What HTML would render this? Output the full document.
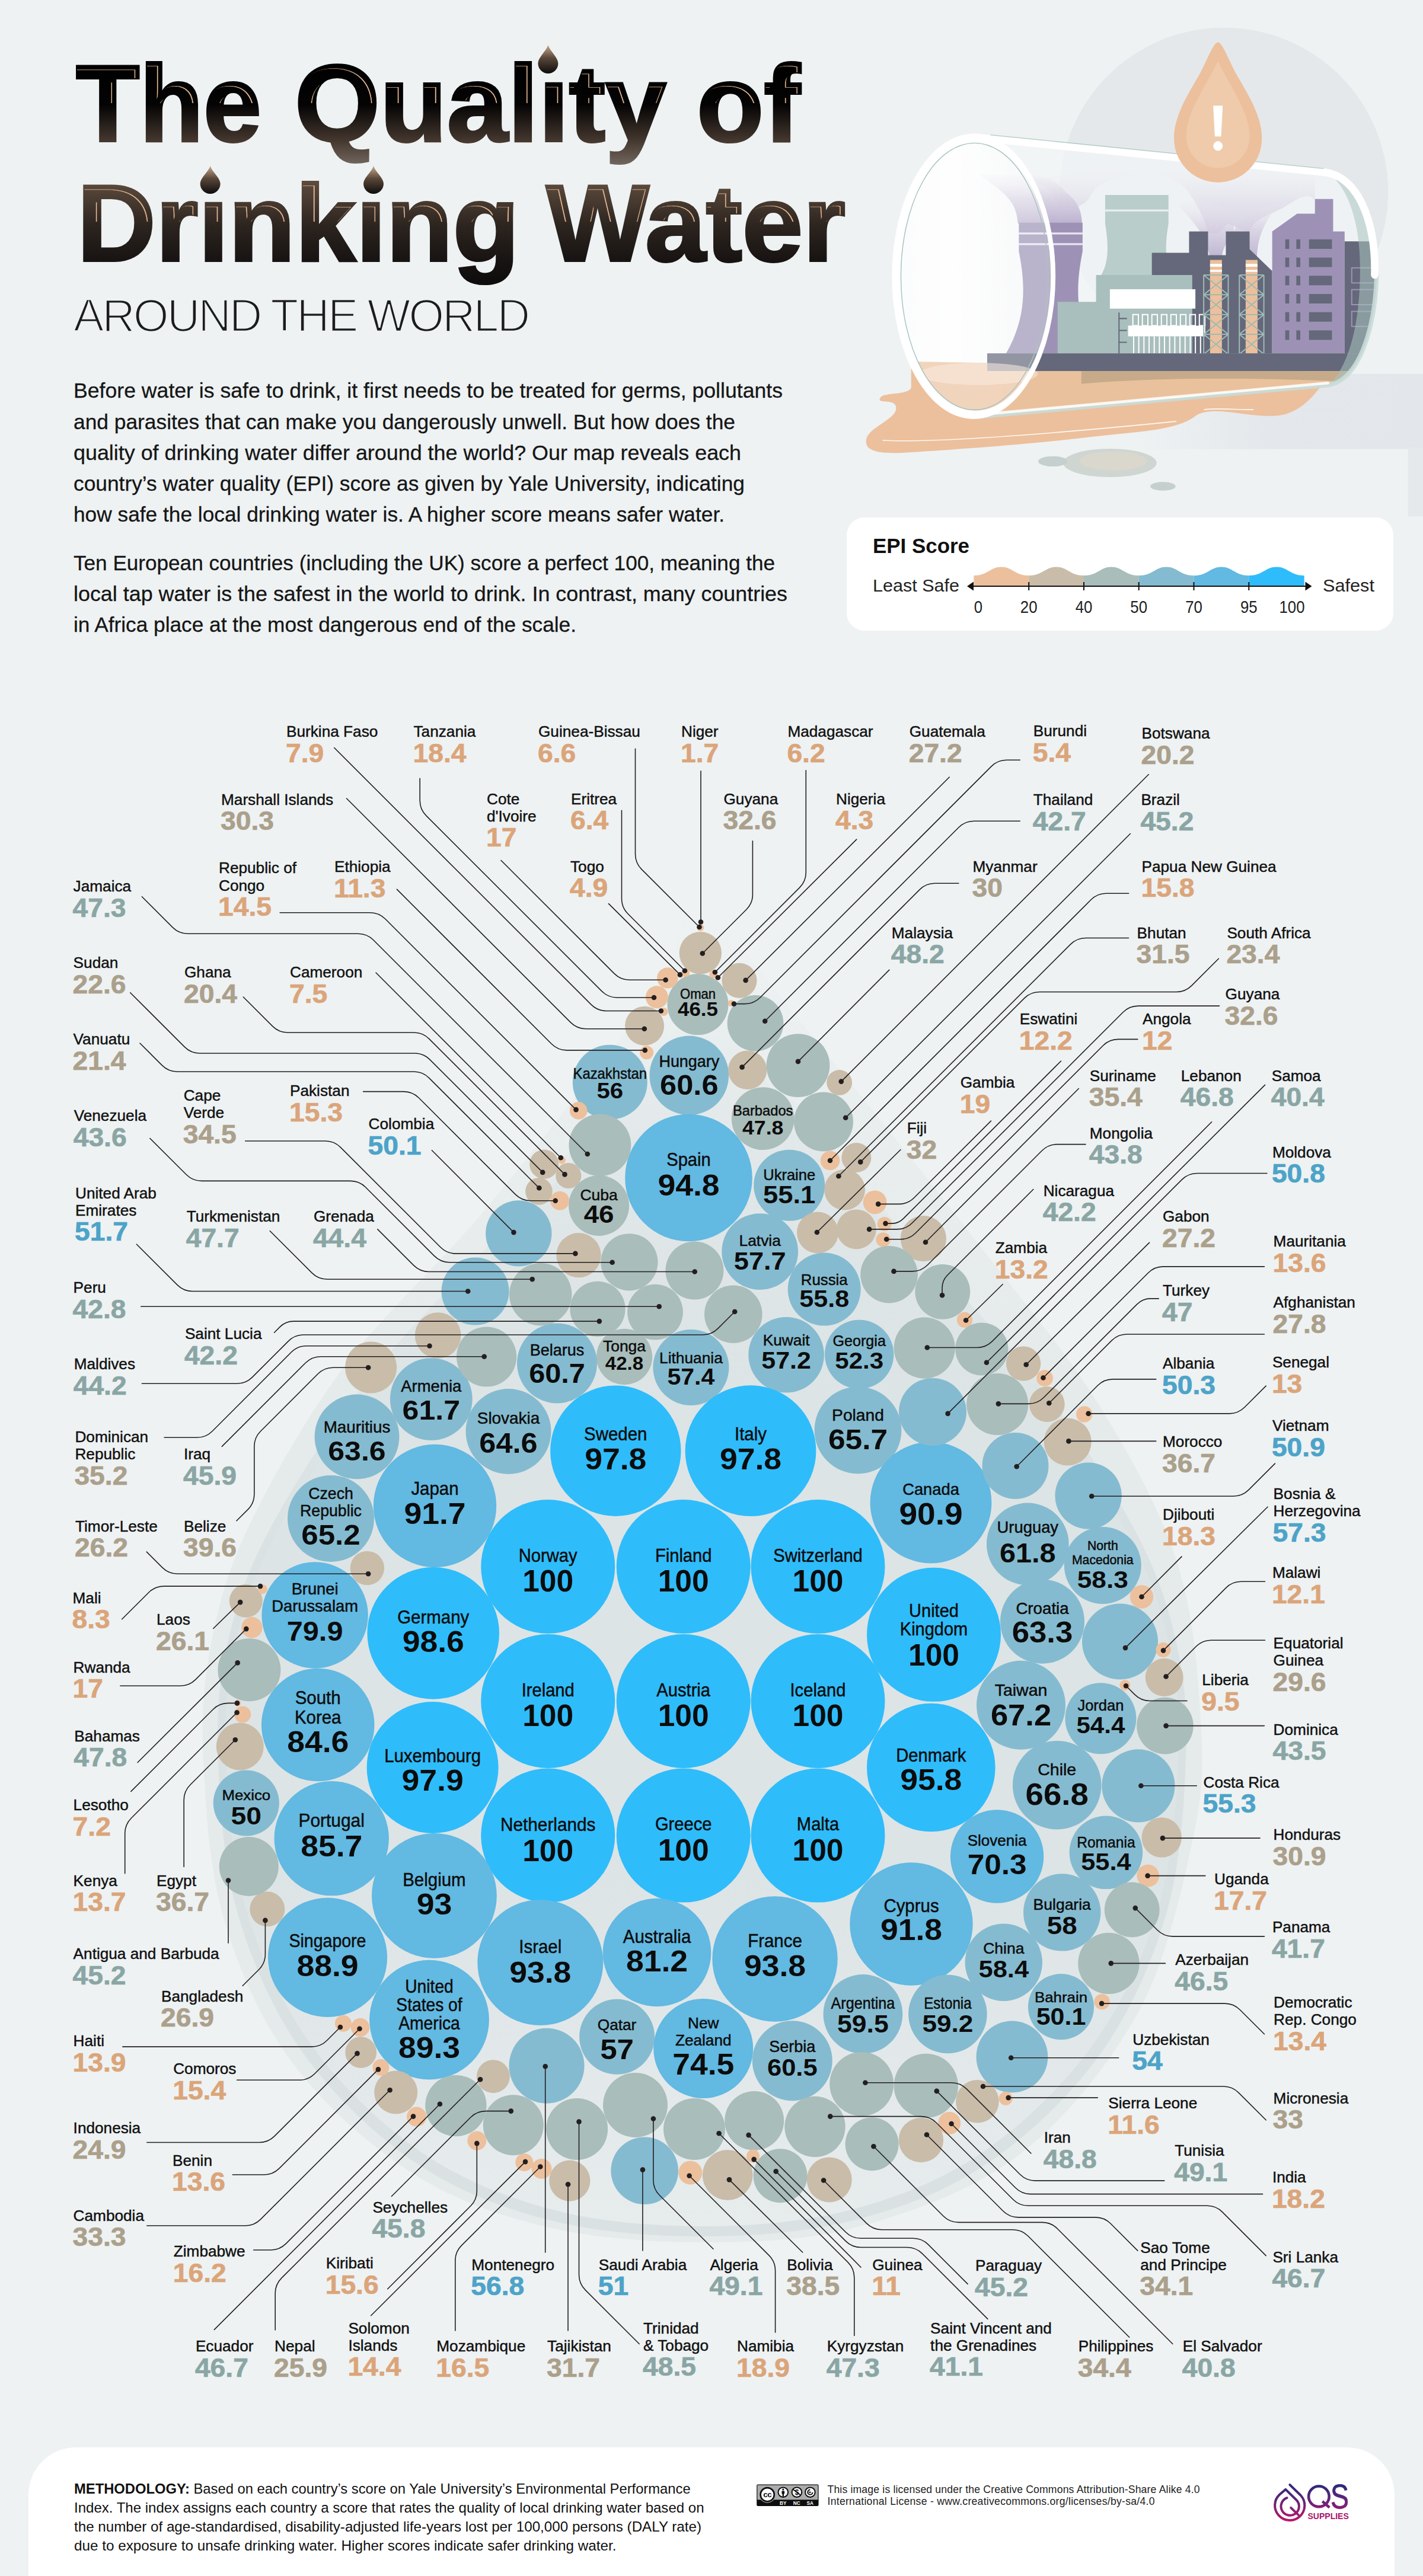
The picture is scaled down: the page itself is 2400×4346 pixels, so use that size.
<!DOCTYPE html>
<html><head><meta charset="utf-8"><title>The Quality of Drinking Water Around the World</title>
<style>html,body{margin:0;padding:0;background:#eef2f3}body{width:2400px;height:4346px;overflow:hidden}svg{display:block}text{font-family:"Liberation Sans",sans-serif}</style>
</head><body>
<svg width="2400" height="4346" viewBox="0 0 2400 4346">
<defs>
<linearGradient id="tg1" gradientUnits="userSpaceOnUse" x1="0" y1="105" x2="0" y2="295"><stop offset="0" stop-color="#000"/><stop offset="0.38" stop-color="#050404"/><stop offset="0.7" stop-color="#45382f"/><stop offset="1" stop-color="#857b73"/></linearGradient>
<linearGradient id="tg2" gradientUnits="userSpaceOnUse" x1="0" y1="305" x2="0" y2="495"><stop offset="0" stop-color="#5e4c3e"/><stop offset="0.4" stop-color="#2c241f"/><stop offset="0.72" stop-color="#171312"/><stop offset="1" stop-color="#0a0909"/></linearGradient>
<linearGradient id="dg" x1="0" y1="0" x2="0" y2="1"><stop offset="0" stop-color="#c9a88a"/><stop offset="0.45" stop-color="#5a483b"/><stop offset="1" stop-color="#0e0c0b"/></linearGradient>
</defs>
<rect width="2400" height="4346" fill="#eef2f3"/>
<text x="128.0" y="238.0" font-size="183" font-weight="bold" textLength="313.0" lengthAdjust="spacingAndGlyphs" fill="url(#tg1)" stroke="url(#tg1)" stroke-width="4" stroke-linejoin="miter">The</text>
<text x="497.0" y="238.0" font-size="183" font-weight="bold" textLength="627.0" lengthAdjust="spacingAndGlyphs" fill="url(#tg1)" stroke="url(#tg1)" stroke-width="4" stroke-linejoin="miter">Qualıty</text>
<text x="1175.0" y="238.0" font-size="183" font-weight="bold" textLength="175.0" lengthAdjust="spacingAndGlyphs" fill="url(#tg1)" stroke="url(#tg1)" stroke-width="4" stroke-linejoin="miter">of</text>
<text x="130.0" y="440.0" font-size="183" font-weight="bold" textLength="746.0" lengthAdjust="spacingAndGlyphs" fill="url(#tg2)" stroke="url(#tg2)" stroke-width="4" stroke-linejoin="miter">Drınkıng</text>
<text x="921.0" y="440.0" font-size="183" font-weight="bold" textLength="505.0" lengthAdjust="spacingAndGlyphs" fill="url(#tg2)" stroke="url(#tg2)" stroke-width="4" stroke-linejoin="miter">Water</text>
<defs><mask id="hlm" maskUnits="userSpaceOnUse" x="0" y="0" width="1500" height="520"><rect width="1500" height="520" fill="#000"/>
<g transform="translate(-5.5,5.5)"><text x="128.0" y="238.0" font-size="183" font-weight="bold" textLength="313.0" lengthAdjust="spacingAndGlyphs" fill="#fff">The</text><text x="497.0" y="238.0" font-size="183" font-weight="bold" textLength="627.0" lengthAdjust="spacingAndGlyphs" fill="#fff">Qualıty</text><text x="1175.0" y="238.0" font-size="183" font-weight="bold" textLength="175.0" lengthAdjust="spacingAndGlyphs" fill="#fff">of</text><text x="130.0" y="440.0" font-size="183" font-weight="bold" textLength="746.0" lengthAdjust="spacingAndGlyphs" fill="#fff">Drınkıng</text><text x="921.0" y="440.0" font-size="183" font-weight="bold" textLength="505.0" lengthAdjust="spacingAndGlyphs" fill="#fff">Water</text></g>
<g transform="translate(-7.3,7.3)"><text x="128.0" y="238.0" font-size="183" font-weight="bold" textLength="313.0" lengthAdjust="spacingAndGlyphs" fill="#000" stroke="#000" stroke-width="0.6">The</text><text x="497.0" y="238.0" font-size="183" font-weight="bold" textLength="627.0" lengthAdjust="spacingAndGlyphs" fill="#000" stroke="#000" stroke-width="0.6">Qualıty</text><text x="1175.0" y="238.0" font-size="183" font-weight="bold" textLength="175.0" lengthAdjust="spacingAndGlyphs" fill="#000" stroke="#000" stroke-width="0.6">of</text><text x="130.0" y="440.0" font-size="183" font-weight="bold" textLength="746.0" lengthAdjust="spacingAndGlyphs" fill="#000" stroke="#000" stroke-width="0.6">Drınkıng</text><text x="921.0" y="440.0" font-size="183" font-weight="bold" textLength="505.0" lengthAdjust="spacingAndGlyphs" fill="#000" stroke="#000" stroke-width="0.6">Water</text></g>
</mask><clipPath id="tcl"><text x="128.0" y="238.0" font-size="183" font-weight="bold" textLength="313.0" lengthAdjust="spacingAndGlyphs" >The</text><text x="497.0" y="238.0" font-size="183" font-weight="bold" textLength="627.0" lengthAdjust="spacingAndGlyphs" >Qualıty</text><text x="1175.0" y="238.0" font-size="183" font-weight="bold" textLength="175.0" lengthAdjust="spacingAndGlyphs" >of</text><text x="130.0" y="440.0" font-size="183" font-weight="bold" textLength="746.0" lengthAdjust="spacingAndGlyphs" >Drınkıng</text><text x="921.0" y="440.0" font-size="183" font-weight="bold" textLength="505.0" lengthAdjust="spacingAndGlyphs" >Water</text></clipPath></defs>
<g clip-path="url(#tcl)"><g mask="url(#hlm)"><rect x="100" y="100" width="1360" height="74" fill="#ecbd96"/><rect x="100" y="300" width="1360" height="74" fill="#ecbd96"/></g></g>
<path d="M924.4 76.0 C927.4 86.0 941.4 97.0 941.4 107.0 A17.0 17.0 0 0 1 907.4 107.0 C907.4 97.0 921.4 86.0 924.4 76.0 Z" fill="url(#dg)"/>
<path d="M354.6 280.0 C357.6 290.0 371.6 300.0 371.6 310.0 A17.0 17.0 0 0 1 337.6 310.0 C337.6 300.0 351.6 290.0 354.6 280.0 Z" fill="url(#dg)"/>
<path d="M630.0 280.0 C633.0 290.0 647.0 300.0 647.0 310.0 A17.0 17.0 0 0 1 613.0 310.0 C613.0 300.0 627.0 290.0 630.0 280.0 Z" fill="url(#dg)"/>
<text x="124" y="558.5" font-size="77" fill="#1c1c1c" stroke="#eef2f3" stroke-width="2.6" textLength="770" lengthAdjust="spacing">AROUND THE WORLD</text>
<text x="124" y="671.0" font-size="35.6" fill="#161616" stroke="#161616" stroke-width="0.3" textLength="1196" lengthAdjust="spacingAndGlyphs">Before water is safe to drink, it first needs to be treated for germs, pollutants</text>
<text x="124" y="723.5" font-size="35.6" fill="#161616" stroke="#161616" stroke-width="0.3" textLength="1116" lengthAdjust="spacingAndGlyphs">and parasites that can make you dangerously unwell. But how does the</text>
<text x="124" y="776.0" font-size="35.6" fill="#161616" stroke="#161616" stroke-width="0.3" textLength="1126" lengthAdjust="spacingAndGlyphs">quality of drinking water differ around the world? Our map reveals each</text>
<text x="124" y="828.0" font-size="35.6" fill="#161616" stroke="#161616" stroke-width="0.3" textLength="1132" lengthAdjust="spacingAndGlyphs">country’s water quality (EPI) score as given by Yale University, indicating</text>
<text x="124" y="880.0" font-size="35.6" fill="#161616" stroke="#161616" stroke-width="0.3" textLength="1098" lengthAdjust="spacingAndGlyphs">how safe the local drinking water is. A higher score means safer water.</text>
<text x="124" y="961.5" font-size="35.6" fill="#161616" stroke="#161616" stroke-width="0.3" textLength="1183" lengthAdjust="spacingAndGlyphs">Ten European countries (including the UK) score a perfect 100, meaning the</text>
<text x="124" y="1013.5" font-size="35.6" fill="#161616" stroke="#161616" stroke-width="0.3" textLength="1204" lengthAdjust="spacingAndGlyphs">local tap water is the safest in the world to drink. In contrast, many countries</text>
<text x="124" y="1065.5" font-size="35.6" fill="#161616" stroke="#161616" stroke-width="0.3" textLength="848" lengthAdjust="spacingAndGlyphs">in Africa place at the most dangerous end of the scale.</text>
<rect x="1428" y="873" width="922" height="191" rx="30" fill="#fff"/>
<text x="1472" y="933" font-size="35" font-weight="bold" fill="#111" textLength="163" lengthAdjust="spacingAndGlyphs">EPI Score</text>
<text x="1472" y="997.5" font-size="30" fill="#222" textLength="146" lengthAdjust="spacingAndGlyphs">Least Safe</text>
<text x="2231" y="997.5" font-size="30" fill="#222" textLength="87" lengthAdjust="spacingAndGlyphs">Safest</text>
<path d="M1642.4 989.0 L1642.4 971.0 C1665.6 971.0 1670.2 956.5 1688.8 956.5 C1707.4 956.5 1712.0 971.0 1735.2 971.0 L1735.2 989.0 Z" fill="#ecc09c"/>
<path d="M1735.2 989.0 L1735.2 971.0 C1758.4 971.0 1763.0 956.5 1781.6 956.5 C1800.2 956.5 1804.8 971.0 1828.0 971.0 L1828.0 989.0 Z" fill="#c9bca9"/>
<path d="M1828.0 989.0 L1828.0 971.0 C1851.2 971.0 1855.8 956.5 1874.3 956.5 C1892.9 956.5 1897.5 971.0 1920.7 971.0 L1920.7 989.0 Z" fill="#a9bdbb"/>
<path d="M1920.7 989.0 L1920.7 971.0 C1943.9 971.0 1948.5 956.5 1967.1 956.5 C1985.7 956.5 1990.3 971.0 2013.5 971.0 L2013.5 989.0 Z" fill="#85bbd0"/>
<path d="M2013.5 989.0 L2013.5 971.0 C2036.7 971.0 2041.3 956.5 2059.9 956.5 C2078.5 956.5 2083.1 971.0 2106.3 971.0 L2106.3 989.0 Z" fill="#62b9e2"/>
<path d="M2106.3 989.0 L2106.3 971.0 C2129.7 971.0 2134.3 956.5 2153.0 956.5 C2171.7 956.5 2176.3 971.0 2199.7 971.0 L2199.7 989.0 Z" fill="#2fbcfb"/>
<path d="M1640 989 H2204" stroke="#111" stroke-width="2" fill="none"/>
<path d="M1631 989 l11 -7.5 v15 Z M2212.5 989 l-11 -7.5 v15 Z" fill="#111"/>
<path d="M1735.2 982 v14" stroke="#111" stroke-width="2"/>
<path d="M1828.0 982 v14" stroke="#111" stroke-width="2"/>
<path d="M1920.7 982 v14" stroke="#111" stroke-width="2"/>
<path d="M2013.5 982 v14" stroke="#111" stroke-width="2"/>
<path d="M2106.3 982 v14" stroke="#111" stroke-width="2"/>
<text x="1650.0" y="1034" font-size="30" fill="#222" text-anchor="middle" textLength="14.3" lengthAdjust="spacingAndGlyphs">0</text>
<text x="1735.2" y="1034" font-size="30" fill="#222" text-anchor="middle" textLength="28.7" lengthAdjust="spacingAndGlyphs">20</text>
<text x="1828.0" y="1034" font-size="30" fill="#222" text-anchor="middle" textLength="28.7" lengthAdjust="spacingAndGlyphs">40</text>
<text x="1920.7" y="1034" font-size="30" fill="#222" text-anchor="middle" textLength="28.7" lengthAdjust="spacingAndGlyphs">50</text>
<text x="2013.5" y="1034" font-size="30" fill="#222" text-anchor="middle" textLength="28.7" lengthAdjust="spacingAndGlyphs">70</text>
<text x="2106.3" y="1034" font-size="30" fill="#222" text-anchor="middle" textLength="28.7" lengthAdjust="spacingAndGlyphs">95</text>
<text x="2179.0" y="1034" font-size="30" fill="#222" text-anchor="middle" textLength="43.0" lengthAdjust="spacingAndGlyphs">100</text>
<defs>
<linearGradient id="band" x1="0" y1="0" x2="1" y2="0"><stop offset="0" stop-color="#e3e6ea" stop-opacity="0"/><stop offset="0.45" stop-color="#e3e6ea" stop-opacity="0.9"/><stop offset="1" stop-color="#e3e6ea"/></linearGradient>
<linearGradient id="smk" x1="0" y1="1" x2="0" y2="0"><stop offset="0" stop-color="#b9aecd" stop-opacity="0.95"/><stop offset="0.5" stop-color="#d4cde0" stop-opacity="0.8"/><stop offset="1" stop-color="#ece9f1" stop-opacity="0.15"/></linearGradient>
<linearGradient id="gls" x1="0" y1="0" x2="1" y2="0"><stop offset="0" stop-color="#fff" stop-opacity="0.55"/><stop offset="0.35" stop-color="#fff" stop-opacity="0.95"/><stop offset="0.75" stop-color="#fff" stop-opacity="0.35"/><stop offset="1" stop-color="#f4f6f8" stop-opacity="0.1"/></linearGradient>
<radialGradient id="odrop" cx="0.5" cy="0.62" r="0.5"><stop offset="0" stop-color="#f2d2b6"/><stop offset="0.55" stop-color="#efc8a8"/><stop offset="1" stop-color="#ecc09c"/></radialGradient>
<clipPath id="gclip"><path d="M290 297 L1172 385 C1265 395 1310 520 1306 650 C1302 790 1260 915 1185 928 L300 1008 C180 1000 95 850 95 652 C95 450 180 300 290 297 Z"/></clipPath>
</defs>
<g transform="translate(1450 30) scale(0.6676)">
<circle cx="920" cy="440" r="415" fill="#e4e8eb"/>
<rect x="700" y="900" width="760" height="190" fill="url(#band)"/>
<rect x="1385" y="1085" width="80" height="175" fill="#e6e9ec"/>
<path d="M20 1084 C-5 1040 95 1020 92 985 C90 960 40 978 52 960 C62 945 120 955 130 935 L130 880 C130 865 150 868 170 868 L1190 895 C1160 940 1130 985 1075 1002 C1000 1020 900 975 850 1005 C800 1045 700 1045 560 1062 C400 1080 250 1090 130 1098 C70 1102 35 1100 20 1084 Z" fill="#ecc09c"/>
<path d="M58 1068 C200 1075 500 1050 800 1020" fill="none" stroke="#fff" stroke-width="2.5" opacity="0.9"/>
<path d="M870 990 C920 985 960 992 995 990" fill="none" stroke="#fff" stroke-width="2.5" opacity="0.9"/>
<ellipse cx="632" cy="1125" rx="118" ry="36" fill="#cfd6d2"/><ellipse cx="640" cy="1120" rx="85" ry="24" fill="#dad8cc"/>
<ellipse cx="488" cy="1121" rx="37" ry="13" fill="#c5d0ce"/><ellipse cx="766" cy="1184" rx="32" ry="11" fill="#c5d0ce"/>
<path d="M290 297 L1172 385 C1265 395 1310 520 1306 650 C1302 790 1260 915 1185 928 L300 1008 C180 1000 95 850 95 652 C95 450 180 300 290 297 Z" fill="#f3f5f7" opacity="0.75"/>
<ellipse cx="292" cy="652" rx="197" ry="345" fill="url(#gls)"/>
<g clip-path="url(#gclip)">
<path d="M400 520 C395 470 380 450 300 395 C420 400 470 380 520 440 C560 470 560 500 562 520 Z" fill="url(#smk)"/>
<path d="M505 520 C515 480 560 485 580 455 C600 415 640 400 720 395 C760 395 800 400 830 440 C850 470 870 500 880 545 L905 545 L930 520 L985 545 C990 510 1030 500 1070 480 C1110 455 1130 440 1150 460 L1150 400 L600 385 L420 410 C500 420 500 480 505 520 Z" fill="url(#smk)" opacity="0.5"/>
<path d="M885 612 C880 560 850 520 800 470 C900 440 950 500 945 540 C960 500 1000 480 1060 470 C1010 530 1005 570 1003 612 L975 612 C975 575 960 560 945 545 C930 565 915 580 915 612 Z" fill="url(#smk)"/>
<path d="M402 518 H563 V590 C545 680 545 760 590 848 H370 C420 760 420 680 402 590 Z" fill="#9d92b6"/>
<path d="M402 545 H563 M402 572 H563" stroke="#e9e5f0" stroke-width="5"/>
<path d="M620 448 H780 V520 C770 580 772 620 790 650 H610 C628 620 630 580 620 520 Z" fill="#b9cdcb"/>
<path d="M620 487 H780" stroke="#e8efee" stroke-width="5"/>
<path d="M738 594 H832 V540 H880 V600 H925 V540 H985 V585 L1042 640 V848 H738 Z" fill="#64687a"/>
<path d="M597 650 H840 V848 H500 V718 H597 Z" fill="#a9bfbd"/>
<rect x="632" y="686" width="216" height="49" fill="#fff"/>
<rect x="678" y="778" width="195" height="27" fill="#fff"/>
<g stroke="#fff" stroke-width="3" fill="none">
<rect x="690" y="750" width="14" height="28"/>
<rect x="714" y="750" width="14" height="28"/>
<rect x="738" y="750" width="14" height="28"/>
<rect x="762" y="750" width="14" height="28"/>
<rect x="786" y="750" width="14" height="28"/>
<rect x="810" y="750" width="14" height="28"/>
<rect x="834" y="750" width="14" height="28"/>
<rect x="858" y="750" width="14" height="28"/>
<path d="M692 805 V848"/>
<path d="M705 805 V848"/>
<path d="M718 805 V848"/>
<path d="M731 805 V848"/>
<path d="M744 805 V848"/>
<path d="M757 805 V848"/>
<path d="M770 805 V848"/>
<path d="M783 805 V848"/>
<path d="M796 805 V848"/>
<path d="M809 805 V848"/>
<path d="M822 805 V848"/>
<path d="M835 805 V848"/>
<path d="M848 805 V848"/>
<path d="M861 805 V848"/>
</g>
<path d="M655 745 V848 M655 760 h20 M655 790 h20 M655 820 h20" stroke="#64687a" stroke-width="3" fill="none"/>
<rect x="885" y="612" width="30" height="236" fill="#ecc09c"/>
<rect x="885" y="622" width="30" height="7" fill="#fff"/><rect x="885" y="637" width="30" height="5" fill="#fff"/>
<path d="M869 650 V848 M931 650 V848 M869 650 H931 M869 650 L931 700 M931 650 L869 700 M869 700 H931 M869 700 L931 750 M931 700 L869 750 M869 750 H931 M869 750 L931 800 M931 750 L869 800 M869 800 H931 M869 800 L931 850 M931 800 L869 850 M869 850 H931" stroke="#9ebab6" stroke-width="3" fill="none"/>
<rect x="975" y="612" width="30" height="236" fill="#ecc09c"/>
<rect x="975" y="622" width="30" height="7" fill="#fff"/><rect x="975" y="637" width="30" height="5" fill="#fff"/>
<path d="M959 650 V848 M1021 650 V848 M959 650 H1021 M959 650 L1021 700 M1021 650 L959 700 M959 700 H1021 M959 700 L1021 750 M1021 700 L959 750 M959 750 H1021 M959 750 L1021 800 M1021 750 L959 800 M959 800 H1021 M959 800 L1021 850 M1021 800 L959 850 M959 850 H1021" stroke="#9ebab6" stroke-width="3" fill="none"/>
<path d="M1042 540 L1105 495 H1150 V458 H1196 V540 H1225 V848 H1042 Z" fill="#9d92b6"/>
<rect x="1225" y="565" width="120" height="283" fill="#64687a"/>
<rect x="1075" y="560" width="10" height="24" fill="#64687a"/><rect x="1103" y="560" width="10" height="24" fill="#64687a"/><rect x="1135" y="560" width="58" height="24" fill="#64687a"/>
<rect x="1075" y="606" width="10" height="24" fill="#64687a"/><rect x="1103" y="606" width="10" height="24" fill="#64687a"/><rect x="1135" y="606" width="58" height="24" fill="#64687a"/>
<rect x="1075" y="652" width="10" height="24" fill="#64687a"/><rect x="1103" y="652" width="10" height="24" fill="#64687a"/><rect x="1135" y="652" width="58" height="24" fill="#64687a"/>
<rect x="1075" y="698" width="10" height="24" fill="#64687a"/><rect x="1103" y="698" width="10" height="24" fill="#64687a"/><rect x="1135" y="698" width="58" height="24" fill="#64687a"/>
<rect x="1075" y="744" width="10" height="24" fill="#64687a"/><rect x="1103" y="744" width="10" height="24" fill="#64687a"/><rect x="1135" y="744" width="58" height="24" fill="#64687a"/>
<rect x="1075" y="790" width="10" height="24" fill="#64687a"/><rect x="1103" y="790" width="10" height="24" fill="#64687a"/><rect x="1135" y="790" width="58" height="24" fill="#64687a"/>
<rect x="1243" y="632" width="70" height="38" fill="none" stroke="#9d92b6" stroke-width="3"/>
<rect x="1243" y="687" width="70" height="38" fill="none" stroke="#9d92b6" stroke-width="3"/>
<rect x="1243" y="742" width="70" height="38" fill="none" stroke="#9d92b6" stroke-width="3"/>
<rect x="322" y="848" width="1000" height="45" fill="#64687a"/>
<path d="M95 868 L322 872 V893 H1320 V1010 H95 Z" fill="#e9bd98" opacity="0.93"/>
<path d="M560 893 H1320 V925 C1100 910 800 905 560 925 Z" fill="#b9a183" opacity="0.75"/>
<ellipse cx="300" cy="900" rx="150" ry="28" fill="#f8e6d6" opacity="0.55"/>
<ellipse cx="292" cy="652" rx="197" ry="345" fill="#fff" opacity="0.3"/>
<path d="M1172 385 C1265 395 1310 520 1306 650 C1302 790 1260 915 1185 928 C1235 880 1262 780 1264 650 C1266 520 1235 420 1172 385 Z" fill="#a9c4bf" opacity="0.55"/>
</g>
<path d="M300 1008 L1185 928 C1260 915 1302 790 1306 650" fill="none" stroke="#c9dcd8" stroke-width="11" stroke-linecap="round" opacity="0.9"/>
<path d="M300 1003 L1183 923" fill="none" stroke="#fff" stroke-width="7" stroke-linecap="round" opacity="0.85"/>
<path d="M290 302 L1172 390 C1262 400 1304 520 1301 650" fill="none" stroke="#fff" stroke-width="19" stroke-linecap="round"/>
<path d="M288 293 A206.6 360.5 0 1 0 288 1014 A206.6 360.5 0 1 0 288 293 Z M292.8 315 A190 339 0 1 1 292.8 993 A190 339 0 1 1 292.8 315 Z" fill="#fff" fill-rule="evenodd"/>
<ellipse cx="290" cy="653.6" rx="186" ry="337" fill="none" stroke="#a9c4be" stroke-width="2.2"/>
<path d="M330 296 L1172 381" fill="none" stroke="#a9c4be" stroke-width="2" opacity="0.9"/>
<path d="M905 62 C915 62 925 90 950 140 C985 200 1016 250 1016 305 A111 111 0 0 1 794 305 C794 250 825 200 860 140 C885 90 895 62 905 62 Z" fill="#ecc09c"/>
<path d="M905 110 C940 180 985 240 985 300 A80 80 0 0 1 825 300 C825 240 870 180 905 110 Z" fill="#f2d3b8" opacity="0.55"/>
<path d="M893 222 H917 L913 300 H897 Z" fill="#fff"/><circle cx="905" cy="324" r="12" fill="#fff"/>
</g>
<defs><linearGradient id="dbg" gradientUnits="userSpaceOnUse" x1="0" y1="1540" x2="0" y2="2700"><stop offset="0" stop-color="#e5eaeb" stop-opacity="0"/><stop offset="0.3" stop-color="#e5eaeb" stop-opacity="0.55"/><stop offset="0.7" stop-color="#e5eaeb"/><stop offset="1" stop-color="#e5eaeb"/></linearGradient></defs>
<path d="M1180.0 1535.0 C1133.2 1519.3 1163.3 1589.8 1104.0 1673.0 C1044.7 1756.2 910.7 1929.3 824.0 2034.0 C737.3 2138.7 650.8 2212.0 584.0 2301.0 C517.2 2390.0 460.8 2490.2 423.0 2568.0 C385.2 2645.8 370.3 2701.3 357.0 2768.0 C343.7 2834.7 339.7 2890.2 343.0 2968.0 C346.3 3045.8 352.5 3150.3 377.0 3235.0 C401.5 3319.7 437.8 3404.7 490.0 3476.0 C542.2 3547.3 618.8 3616.3 690.0 3663.0 C761.2 3709.7 834.7 3736.0 917.0 3756.0 C999.3 3776.0 1095.0 3783.0 1184.0 3783.0 C1273.0 3783.0 1362.0 3780.5 1451.0 3756.0 C1540.0 3731.5 1640.0 3696.0 1718.0 3636.0 C1796.0 3576.0 1870.0 3485.0 1919.0 3396.0 C1968.0 3307.0 1994.3 3184.3 2012.0 3102.0 C2029.7 3019.7 2029.5 2979.8 2025.0 2902.0 C2020.5 2824.2 2013.8 2724.0 1985.0 2635.0 C1956.2 2546.0 1907.5 2457.0 1852.0 2368.0 C1796.5 2279.0 1729.8 2201.2 1652.0 2101.0 C1574.2 2000.8 1463.7 1861.3 1385.0 1767.0 C1306.3 1672.7 1226.8 1550.7 1180.0 1535.0 Z" fill="url(#dbg)"/>
<defs><linearGradient id="dbm" gradientUnits="userSpaceOnUse" x1="0" y1="1700" x2="0" y2="2700"><stop offset="0" stop-color="#d9e1e2" stop-opacity="0"/><stop offset="1" stop-color="#d9e1e2"/></linearGradient>
<linearGradient id="dbi" gradientUnits="userSpaceOnUse" x1="0" y1="1650" x2="0" y2="3756"><stop offset="0" stop-color="#dde4e5" stop-opacity="0"/><stop offset="0.4" stop-color="#dde4e5"/><stop offset="0.72" stop-color="#dde4e5"/><stop offset="1" stop-color="#e7eced"/></linearGradient></defs>
<path d="M1184.0 1620.0 C1162.7 1620.0 1174.0 1666.7 1120.0 1740.0 C1066.0 1813.3 943.0 1962.5 860.0 2060.0 C777.0 2157.5 689.5 2238.3 622.0 2325.0 C554.5 2411.7 494.7 2505.5 455.0 2580.0 C415.3 2654.5 398.5 2707.8 384.0 2772.0 C369.5 2836.2 365.3 2889.5 368.0 2965.0 C370.7 3040.5 376.3 3142.2 400.0 3225.0 C423.7 3307.8 460.0 3391.5 510.0 3462.0 C560.0 3532.5 630.8 3600.8 700.0 3648.0 C769.2 3695.2 844.3 3724.2 925.0 3745.0 C1005.7 3765.8 1097.7 3773.0 1184.0 3773.0 C1270.3 3773.0 1362.3 3765.8 1443.0 3745.0 C1523.7 3724.2 1598.8 3695.2 1668.0 3648.0 C1737.2 3600.8 1808.0 3532.5 1858.0 3462.0 C1908.0 3391.5 1944.3 3307.8 1968.0 3225.0 C1991.7 3142.2 1997.3 3040.5 2000.0 2965.0 C2002.7 2889.5 1998.5 2836.2 1984.0 2772.0 C1969.5 2707.8 1952.7 2654.5 1913.0 2580.0 C1873.3 2505.5 1813.5 2411.7 1746.0 2325.0 C1678.5 2238.3 1591.0 2157.5 1508.0 2060.0 C1425.0 1962.5 1302.0 1813.3 1248.0 1740.0 C1194.0 1666.7 1205.3 1620.0 1184.0 1620.0 Z" fill="url(#dbm)"/>
<path d="M1184.0 1640.0 C1164.3 1640.0 1177.3 1687.5 1125.0 1760.0 C1072.7 1832.5 951.8 1979.2 870.0 2075.0 C788.2 2170.8 701.2 2250.0 634.0 2335.0 C566.8 2420.0 506.7 2511.7 467.0 2585.0 C427.3 2658.3 410.3 2711.7 396.0 2775.0 C381.7 2838.3 378.0 2891.2 381.0 2965.0 C384.0 3038.8 390.0 3137.2 414.0 3218.0 C438.0 3298.8 475.3 3381.0 525.0 3450.0 C574.7 3519.0 644.2 3585.7 712.0 3632.0 C779.8 3678.3 853.3 3707.3 932.0 3728.0 C1010.7 3748.7 1100.0 3756.0 1184.0 3756.0 C1268.0 3756.0 1357.3 3748.7 1436.0 3728.0 C1514.7 3707.3 1588.2 3678.3 1656.0 3632.0 C1723.8 3585.7 1793.3 3519.0 1843.0 3450.0 C1892.7 3381.0 1930.0 3298.8 1954.0 3218.0 C1978.0 3137.2 1984.0 3038.8 1987.0 2965.0 C1990.0 2891.2 1986.3 2838.3 1972.0 2775.0 C1957.7 2711.7 1940.7 2658.3 1901.0 2585.0 C1861.3 2511.7 1801.2 2420.0 1734.0 2335.0 C1666.8 2250.0 1579.8 2170.8 1498.0 2075.0 C1416.2 1979.2 1295.3 1832.5 1243.0 1760.0 C1190.7 1687.5 1203.7 1640.0 1184.0 1640.0 Z" fill="url(#dbi)"/>
<circle cx="1177.0" cy="1694.6" r="51.5" fill="#a9bdbb"/>
<circle cx="1162.3" cy="1814.4" r="66.8" fill="#85bbd0"/>
<circle cx="1028.8" cy="1825.7" r="63.0" fill="#85bbd0"/>
<circle cx="1286.7" cy="1887.2" r="52.9" fill="#a9bdbb"/>
<circle cx="1161.5" cy="1987.0" r="107.3" fill="#62b9e2"/>
<circle cx="1010.1" cy="2034.0" r="51.0" fill="#a9bdbb"/>
<circle cx="1331.2" cy="1999.7" r="60.0" fill="#85bbd0"/>
<circle cx="1281.7" cy="2111.6" r="64.4" fill="#85bbd0"/>
<circle cx="1390.2" cy="2175.1" r="61.5" fill="#85bbd0"/>
<circle cx="1326.1" cy="2285.8" r="63.8" fill="#85bbd0"/>
<circle cx="1449.2" cy="2285.0" r="58.2" fill="#85bbd0"/>
<circle cx="1165.4" cy="2307.0" r="64.0" fill="#85bbd0"/>
<circle cx="1053.0" cy="2289.0" r="47.2" fill="#a9bdbb"/>
<circle cx="939.5" cy="2300.0" r="67.5" fill="#85bbd0"/>
<circle cx="727.3" cy="2360.6" r="69.4" fill="#85bbd0"/>
<circle cx="602.0" cy="2424.0" r="71.4" fill="#85bbd0"/>
<circle cx="857.5" cy="2415.0" r="72.0" fill="#85bbd0"/>
<circle cx="1038.3" cy="2447.7" r="110.2" fill="#2fbcfb"/>
<circle cx="1266.0" cy="2447.7" r="110.4" fill="#2fbcfb"/>
<circle cx="1447.0" cy="2412.9" r="73.4" fill="#85bbd0"/>
<circle cx="733.5" cy="2540.5" r="103.7" fill="#62b9e2"/>
<circle cx="558.0" cy="2562.0" r="73.0" fill="#85bbd0"/>
<circle cx="1570.0" cy="2535.0" r="102.4" fill="#62b9e2"/>
<circle cx="1733.3" cy="2605.0" r="69.4" fill="#85bbd0"/>
<circle cx="1859.8" cy="2641.0" r="65.0" fill="#85bbd0"/>
<circle cx="924.2" cy="2643.0" r="113.0" fill="#2fbcfb"/>
<circle cx="1152.7" cy="2643.0" r="113.0" fill="#2fbcfb"/>
<circle cx="1379.5" cy="2643.0" r="113.0" fill="#2fbcfb"/>
<circle cx="924.2" cy="2870.0" r="113.0" fill="#2fbcfb"/>
<circle cx="1152.7" cy="2870.0" r="113.0" fill="#2fbcfb"/>
<circle cx="1379.5" cy="2870.0" r="113.0" fill="#2fbcfb"/>
<circle cx="924.2" cy="3096.6" r="113.0" fill="#2fbcfb"/>
<circle cx="1152.7" cy="3096.6" r="113.0" fill="#2fbcfb"/>
<circle cx="1379.5" cy="3096.6" r="113.0" fill="#2fbcfb"/>
<circle cx="531.1" cy="2725.0" r="89.7" fill="#62b9e2"/>
<circle cx="730.7" cy="2755.4" r="111.3" fill="#2fbcfb"/>
<circle cx="1575.0" cy="2757.8" r="113.0" fill="#2fbcfb"/>
<circle cx="1758.0" cy="2735.7" r="71.0" fill="#85bbd0"/>
<circle cx="536.2" cy="2910.0" r="95.3" fill="#62b9e2"/>
<circle cx="729.6" cy="2982.0" r="111.0" fill="#2fbcfb"/>
<circle cx="1570.3" cy="2982.0" r="108.3" fill="#2fbcfb"/>
<circle cx="1722.0" cy="2876.8" r="75.0" fill="#85bbd0"/>
<circle cx="1856.4" cy="2899.3" r="60.0" fill="#85bbd0"/>
<circle cx="415.3" cy="3042.0" r="55.6" fill="#85bbd0"/>
<circle cx="559.2" cy="3101.6" r="96.7" fill="#62b9e2"/>
<circle cx="1782.7" cy="3011.7" r="74.8" fill="#85bbd0"/>
<circle cx="1681.6" cy="3132.0" r="78.7" fill="#62b9e2"/>
<circle cx="1865.4" cy="3125.3" r="61.8" fill="#85bbd0"/>
<circle cx="732.4" cy="3198.3" r="105.4" fill="#62b9e2"/>
<circle cx="1537.0" cy="3246.0" r="103.7" fill="#62b9e2"/>
<circle cx="1791.2" cy="3226.4" r="65.2" fill="#85bbd0"/>
<circle cx="552.5" cy="3302.3" r="100.6" fill="#62b9e2"/>
<circle cx="911.3" cy="3311.0" r="106.0" fill="#62b9e2"/>
<circle cx="1108.0" cy="3294.0" r="91.3" fill="#62b9e2"/>
<circle cx="1307.0" cy="3305.0" r="105.7" fill="#62b9e2"/>
<circle cx="1692.8" cy="3310.7" r="65.2" fill="#85bbd0"/>
<circle cx="724.0" cy="3407.6" r="100.9" fill="#62b9e2"/>
<circle cx="1040.6" cy="3436.3" r="63.5" fill="#85bbd0"/>
<circle cx="1186.2" cy="3456.0" r="84.0" fill="#62b9e2"/>
<circle cx="1336.3" cy="3476.7" r="67.5" fill="#85bbd0"/>
<circle cx="1455.4" cy="3398.0" r="66.9" fill="#85bbd0"/>
<circle cx="1598.4" cy="3398.0" r="66.3" fill="#85bbd0"/>
<circle cx="1789.5" cy="3385.7" r="55.6" fill="#85bbd0"/>
<circle cx="1182.0" cy="1556.0" r="2.5" fill="#ecc09c"/>
<circle cx="1181.3" cy="1565.0" r="6.0" fill="#ecc09c"/>
<circle cx="1181.3" cy="1607.8" r="35.7" fill="#c9bca9"/>
<circle cx="1247.0" cy="1654.2" r="29.5" fill="#c9bca9"/>
<circle cx="1125.8" cy="1650.0" r="17.7" fill="#ecc09c"/>
<circle cx="1107.9" cy="1682.3" r="19.0" fill="#ecc09c"/>
<circle cx="1156.3" cy="1641.2" r="7.0" fill="#ecc09c"/>
<circle cx="1148.0" cy="1645.0" r="5.0" fill="#ecc09c"/>
<circle cx="1203.0" cy="1643.7" r="6.7" fill="#ecc09c"/>
<circle cx="1210.8" cy="1649.3" r="4.5" fill="#ecc09c"/>
<circle cx="1233.0" cy="1692.5" r="5.5" fill="#ecc09c"/>
<circle cx="1119.5" cy="1707.0" r="7.0" fill="#ecc09c"/>
<circle cx="1087.1" cy="1730.8" r="33.0" fill="#c9bca9"/>
<circle cx="1090.7" cy="1775.8" r="11.5" fill="#ecc09c"/>
<circle cx="1274.0" cy="1726.3" r="47.4" fill="#a9bdbb"/>
<circle cx="1260.7" cy="1805.3" r="32.7" fill="#c9bca9"/>
<circle cx="1346.0" cy="1797.6" r="53.4" fill="#a9bdbb"/>
<circle cx="1415.7" cy="1826.4" r="21.4" fill="#c9bca9"/>
<circle cx="1389.0" cy="1892.5" r="50.0" fill="#a9bdbb"/>
<circle cx="975.7" cy="1873.9" r="14.8" fill="#ecc09c"/>
<circle cx="1011.9" cy="1931.9" r="52.4" fill="#a9bdbb"/>
<circle cx="917.7" cy="1964.2" r="24.6" fill="#c9bca9"/>
<circle cx="947.6" cy="1957.2" r="6.3" fill="#ecc09c"/>
<circle cx="958.8" cy="1983.5" r="21.6" fill="#c9bca9"/>
<circle cx="908.9" cy="2009.9" r="22.8" fill="#c9bca9"/>
<circle cx="944.1" cy="2025.7" r="16.0" fill="#ecc09c"/>
<circle cx="874.8" cy="2080.9" r="55.7" fill="#85bbd0"/>
<circle cx="976.0" cy="2117.7" r="37.6" fill="#c9bca9"/>
<circle cx="1061.4" cy="2129.3" r="48.1" fill="#a9bdbb"/>
<circle cx="1171.4" cy="2143.4" r="49.0" fill="#a9bdbb"/>
<circle cx="911.7" cy="2183.8" r="52.7" fill="#a9bdbb"/>
<circle cx="801.5" cy="2178.5" r="57.0" fill="#85bbd0"/>
<circle cx="1105.0" cy="2213.7" r="46.9" fill="#a9bdbb"/>
<circle cx="1008.0" cy="2208.4" r="46.6" fill="#a9bdbb"/>
<circle cx="1236.8" cy="2217.2" r="48.8" fill="#a9bdbb"/>
<circle cx="738.6" cy="2253.0" r="38.8" fill="#c9bca9"/>
<circle cx="820.6" cy="2289.0" r="50.6" fill="#a9bdbb"/>
<circle cx="625.6" cy="2307.0" r="43.6" fill="#c9bca9"/>
<circle cx="619.4" cy="2645.6" r="28.7" fill="#c9bca9"/>
<circle cx="1400.0" cy="1958.0" r="16.3" fill="#ecc09c"/>
<circle cx="1444.4" cy="1953.0" r="25.0" fill="#c9bca9"/>
<circle cx="1424.6" cy="2007.2" r="34.4" fill="#c9bca9"/>
<circle cx="1475.6" cy="2028.3" r="19.9" fill="#ecc09c"/>
<circle cx="1379.0" cy="2079.5" r="35.0" fill="#c9bca9"/>
<circle cx="1444.3" cy="2073.9" r="33.5" fill="#c9bca9"/>
<circle cx="1491.7" cy="2065.1" r="12.0" fill="#ecc09c"/>
<circle cx="1489.6" cy="2091.5" r="12.3" fill="#ecc09c"/>
<circle cx="1557.4" cy="2089.7" r="38.6" fill="#c9bca9"/>
<circle cx="1499.5" cy="2150.2" r="48.3" fill="#a9bdbb"/>
<circle cx="1589.8" cy="2179.3" r="46.4" fill="#a9bdbb"/>
<circle cx="1627.0" cy="2226.8" r="13.2" fill="#ecc09c"/>
<circle cx="1559.2" cy="2274.2" r="51.6" fill="#a9bdbb"/>
<circle cx="1655.8" cy="2276.0" r="44.6" fill="#a9bdbb"/>
<circle cx="1726.1" cy="2300.6" r="29.2" fill="#c9bca9"/>
<circle cx="1762.0" cy="2325.2" r="13.9" fill="#ecc09c"/>
<circle cx="1682.2" cy="2369.1" r="52.0" fill="#a9bdbb"/>
<circle cx="1765.8" cy="2369.1" r="29.9" fill="#c9bca9"/>
<circle cx="1828.7" cy="2386.0" r="13.7" fill="#ecc09c"/>
<circle cx="1573.0" cy="2382.0" r="57.0" fill="#85bbd0"/>
<circle cx="1800.7" cy="2432.6" r="40.0" fill="#c9bca9"/>
<circle cx="1712.5" cy="2473.0" r="56.0" fill="#85bbd0"/>
<circle cx="1835.6" cy="2523.6" r="56.2" fill="#85bbd0"/>
<circle cx="1925.5" cy="2694.0" r="19.7" fill="#ecc09c"/>
<circle cx="1889.0" cy="2769.4" r="64.0" fill="#85bbd0"/>
<circle cx="1962.0" cy="2783.5" r="12.6" fill="#ecc09c"/>
<circle cx="1963.7" cy="2830.0" r="32.0" fill="#c9bca9"/>
<circle cx="1897.4" cy="2843.0" r="9.0" fill="#ecc09c"/>
<circle cx="1964.9" cy="2911.6" r="47.8" fill="#a9bdbb"/>
<circle cx="1919.9" cy="3012.8" r="61.6" fill="#85bbd0"/>
<circle cx="1959.2" cy="3100.0" r="33.7" fill="#c9bca9"/>
<circle cx="1936.2" cy="3164.6" r="18.8" fill="#ecc09c"/>
<circle cx="1909.2" cy="3222.0" r="46.4" fill="#a9bdbb"/>
<circle cx="1869.9" cy="3312.4" r="51.7" fill="#a9bdbb"/>
<circle cx="1858.6" cy="3377.2" r="13.2" fill="#ecc09c"/>
<circle cx="1706.9" cy="3470.0" r="60.4" fill="#85bbd0"/>
<circle cx="1696.2" cy="3540.3" r="11.5" fill="#ecc09c"/>
<circle cx="1648.4" cy="3545.3" r="36.3" fill="#c9bca9"/>
<circle cx="1453.2" cy="3516.0" r="54.0" fill="#a9bdbb"/>
<circle cx="1561.8" cy="3518.9" r="54.2" fill="#a9bdbb"/>
<circle cx="1601.2" cy="3581.9" r="19.0" fill="#ecc09c"/>
<circle cx="1553.4" cy="3610.5" r="37.7" fill="#c9bca9"/>
<circle cx="1374.5" cy="3588.0" r="51.2" fill="#a9bdbb"/>
<circle cx="1470.6" cy="3617.3" r="45.0" fill="#a9bdbb"/>
<circle cx="1398.7" cy="3677.4" r="38.0" fill="#c9bca9"/>
<circle cx="1272.2" cy="3577.9" r="50.0" fill="#a9bdbb"/>
<circle cx="1316.0" cy="3670.7" r="45.5" fill="#a9bdbb"/>
<circle cx="1270.0" cy="3637.5" r="11.0" fill="#ecc09c"/>
<circle cx="1227.2" cy="3669.5" r="42.4" fill="#c9bca9"/>
<circle cx="1171.0" cy="3592.0" r="52.0" fill="#a9bdbb"/>
<circle cx="1164.3" cy="3665.6" r="20.0" fill="#ecc09c"/>
<circle cx="1071.5" cy="3551.5" r="54.5" fill="#a9bdbb"/>
<circle cx="1087.2" cy="3662.2" r="56.8" fill="#85bbd0"/>
<circle cx="973.1" cy="3592.0" r="52.0" fill="#a9bdbb"/>
<circle cx="960.8" cy="3679.1" r="34.6" fill="#c9bca9"/>
<circle cx="922.0" cy="3485.2" r="63.5" fill="#85bbd0"/>
<circle cx="913.5" cy="3658.9" r="17.0" fill="#ecc09c"/>
<circle cx="884.3" cy="3648.2" r="15.0" fill="#ecc09c"/>
<circle cx="865.8" cy="3585.2" r="51.0" fill="#a9bdbb"/>
<circle cx="804.3" cy="3611.6" r="16.0" fill="#ecc09c"/>
<circle cx="831.9" cy="3503.2" r="28.0" fill="#c9bca9"/>
<circle cx="768.9" cy="3552.6" r="51.7" fill="#a9bdbb"/>
<circle cx="702.6" cy="3571.2" r="16.6" fill="#ecc09c"/>
<circle cx="667.7" cy="3530.0" r="36.5" fill="#c9bca9"/>
<circle cx="642.4" cy="3488.0" r="14.0" fill="#ecc09c"/>
<circle cx="608.7" cy="3462.7" r="26.4" fill="#c9bca9"/>
<circle cx="607.6" cy="3420.5" r="15.7" fill="#ecc09c"/>
<circle cx="578.9" cy="3413.8" r="14.0" fill="#ecc09c"/>
<circle cx="450.8" cy="3220.8" r="29.5" fill="#c9bca9"/>
<circle cx="419.8" cy="3148.9" r="50.0" fill="#a9bdbb"/>
<circle cx="404.7" cy="2946.5" r="40.0" fill="#c9bca9"/>
<circle cx="409.2" cy="2892.5" r="14.0" fill="#ecc09c"/>
<circle cx="400.7" cy="2873.4" r="5.6" fill="#ecc09c"/>
<circle cx="420.4" cy="2817.2" r="53.0" fill="#a9bdbb"/>
<circle cx="424.9" cy="2745.8" r="17.7" fill="#ecc09c"/>
<circle cx="414.8" cy="2700.9" r="28.0" fill="#c9bca9"/>
<circle cx="442.9" cy="2681.2" r="8.0" fill="#ecc09c"/>
<g fill="none" stroke="#231f20" stroke-width="1.6" stroke-linecap="round">
<path d="M563.7 1261.5 L997.1 1694.9 Q1007.7 1705.5 1022.7 1705.5 L1114.9 1705.5"/>
<path d="M708.2 1313.2 L708.2 1350.5 Q708.2 1365.5 718.8 1376.1 L1015.1 1672.4 Q1025.7 1683.0 1040.7 1683.0 L1103.0 1683.0"/>
<path d="M584.5 1347.0 L962.6 1725.1 Q973.2 1735.7 988.2 1735.7 L1086.8 1735.7"/>
<path d="M845.0 1451.5 L1036.1 1642.6 Q1046.7 1653.2 1061.7 1653.2 L1122.6 1653.2"/>
<path d="M472.1 1539.7 L624.1 1539.7 Q639.1 1539.7 649.7 1550.3 L971.5 1872.1"/>
<path d="M669.4 1500.4 L930.3 1761.3 Q940.9 1771.9 955.9 1771.9 L1087.8 1771.9"/>
<path d="M239.4 1512.8 L291.2 1564.6 Q301.8 1575.2 316.8 1575.2 L604.0 1575.2 Q619.0 1575.2 629.6 1585.8 L990.8 1947.0"/>
<path d="M219.7 1674.7 L311.4 1766.4 Q322.0 1777.0 337.0 1777.0 L699.3 1777.0 Q714.3 1777.0 724.9 1787.6 L915.2 1977.9"/>
<path d="M410.3 1682.0 L459.7 1731.4 Q470.3 1742.0 485.3 1742.0 L698.1 1742.0 Q713.1 1742.0 723.7 1752.6 L952.5 1981.4"/>
<path d="M634.0 1641.0 L945.8 1953.3"/>
<path d="M236.0 1760.0 L273.4 1797.4 Q284.0 1808.0 299.0 1808.0 L698.0 1808.0 Q713.0 1808.0 723.6 1818.6 L909.3 2004.3"/>
<path d="M612.6 1841.6 L680.8 1841.6 Q695.8 1841.6 706.4 1852.2 L869.3 2015.1 Q879.9 2025.7 894.9 2025.7 L936.7 2025.7"/>
<path d="M413.7 1925.0 L548.7 1925.0 Q563.7 1925.0 574.3 1935.6 L743.0 2104.3 Q753.6 2114.9 768.6 2114.9 L970.4 2114.9"/>
<path d="M252.9 1920.5 L314.3 1981.8 Q324.9 1992.4 339.9 1992.4 L591.0 1992.4 Q606.0 1992.4 616.6 2003.0 L732.7 2119.1 Q743.3 2129.7 758.3 2129.7 L1032.6 2129.7"/>
<path d="M728.4 1940.7 L866.4 2079.1"/>
<path d="M230.4 2099.2 L299.1 2167.9 Q309.7 2178.5 324.7 2178.5 L789.2 2178.5"/>
<path d="M455.3 2076.7 L526.2 2147.6 Q536.8 2158.2 551.8 2158.2 L897.7 2158.2"/>
<path d="M636.8 2073.9 L697.8 2134.9 Q708.4 2145.5 723.4 2145.5 L1171.7 2145.5"/>
<path d="M237.7 2204.2 L1111.7 2204.2"/>
<path d="M462.6 2248.2 L472.1 2238.6 Q481.7 2229.1 495.2 2229.1 L1010.8 2229.1"/>
<path d="M239.4 2334.2 L399.8 2334.2 Q414.8 2334.2 425.4 2323.6 L486.4 2262.6 Q497.0 2252.0 512.0 2252.0 L1185.2 2252.0 Q1200.2 2252.0 1210.8 2241.4 L1239.2 2213.0"/>
<path d="M277.1 2425.3 L332.3 2425.3 Q347.3 2425.3 357.9 2414.7 L491.3 2281.3 Q501.9 2270.7 516.9 2270.7 L724.5 2270.7"/>
<path d="M374.3 2440.4 L515.4 2299.3 Q526.0 2288.7 541.0 2288.7 L816.7 2288.7"/>
<path d="M399.0 2565.8 L418.2 2546.6 Q428.8 2536.0 428.8 2521.0 L428.8 2440.3 Q428.8 2425.3 439.4 2414.7 L536.3 2317.8 Q546.9 2307.2 561.9 2307.2 L621.1 2307.2"/>
<path d="M247.3 2618.1 L273.8 2644.6 Q284.4 2655.2 299.4 2655.2 L621.1 2655.2"/>
<path d="M205.7 2731.8 L250.8 2686.7 Q261.4 2676.1 276.4 2676.1 L439.0 2676.1"/>
<path d="M359.7 2747.5 L405.2 2703.1"/>
<path d="M202.9 2844.2 L304.2 2844.2 Q319.2 2844.2 329.8 2833.6 L415.3 2748.1"/>
<path d="M232.1 2973.5 L400.7 2805.4"/>
<path d="M220.9 3022.4 L359.3 2884.0 Q369.9 2873.4 384.9 2873.4 L400.0 2873.4"/>
<path d="M210.7 3160.7 L210.7 3093.1 Q210.7 3078.1 221.3 3067.5 L399.6 2889.2"/>
<path d="M310.2 3149.4 L310.2 3036.9 Q310.2 3021.9 320.8 3011.3 L396.8 2935.3"/>
<path d="M385.0 3278.1 L385.0 3172.5"/>
<path d="M409.2 3350.3 L436.8 3322.7 Q447.4 3312.1 447.4 3297.1 L447.4 3239.9"/>
<path d="M206.8 3453.1 L525.8 3453.1 Q540.8 3453.1 551.4 3442.5 L573.9 3420.0"/>
<path d="M399.6 3509.3 L505.0 3509.3 Q520.0 3509.3 530.6 3498.7 L606.5 3422.8"/>
<path d="M247.8 3614.5 L437.4 3614.5 Q452.4 3614.5 463.0 3603.9 L602.5 3464.4"/>
<path d="M392.3 3669.0 L445.3 3669.0 Q460.3 3669.0 470.9 3658.4 L637.9 3491.4"/>
<path d="M247.8 3755.0 L413.8 3755.0 Q428.8 3755.0 439.4 3744.4 L657.6 3526.2"/>
<path d="M427.7 3796.0 L456.6 3796.0 Q471.6 3796.0 482.2 3785.4 L697.0 3570.6"/>
<path d="M361.4 3930.4 L741.9 3549.8"/>
<path d="M464.2 3930.9 L464.2 3869.0 Q464.2 3854.0 474.8 3843.4 L810.0 3508.2"/>
<path d="M660.4 3705.5 L793.7 3572.2 Q804.3 3561.6 819.3 3561.6 L861.8 3561.6"/>
<path d="M653.7 3861.8 L793.7 3721.8 Q804.3 3711.2 804.3 3696.2 L804.3 3616.1"/>
<path d="M625.6 3906.7 L886.0 3647.1"/>
<path d="M767.8 3932.0 L767.8 3814.0 Q767.8 3799.0 778.4 3788.4 L911.3 3655.5"/>
<path d="M919.7 3800.0 L919.7 3486.3"/>
<path d="M958.0 3932.0 L958.0 3685.3"/>
<path d="M1078.2 3954.5 L987.1 3863.4 Q976.5 3852.8 976.5 3837.8 L976.5 3579.6"/>
<path d="M1083.9 3797.1 L1083.9 3660.6"/>
<path d="M1203.0 3794.3 L1112.5 3703.8 Q1101.9 3693.2 1101.9 3678.2 L1101.9 3574.5"/>
<path d="M1307.6 3934.9 L1307.6 3830.7 Q1307.6 3815.7 1297.0 3805.1 L1162.6 3670.7"/>
<path d="M1353.7 3800.0 L1230.0 3677.4"/>
<path d="M1440.8 3940.5 L1440.8 3842.5 Q1440.8 3827.5 1430.2 3816.9 L1212.6 3599.3"/>
<path d="M1452.0 3825.2 L1271.6 3643.1"/>
<path d="M1632.1 3853.4 L1565.6 3786.9 Q1555.0 3776.3 1540.0 3776.3 L1451.8 3776.3 Q1436.8 3776.3 1426.2 3765.7 L1262.6 3602.1"/>
<path d="M1665.8 3912.4 L1555.5 3802.1 Q1544.9 3791.5 1529.9 3791.5 L1451.8 3791.5 Q1436.8 3791.5 1426.2 3780.9 L1308.7 3663.4"/>
<path d="M1904.7 3943.3 L1733.7 3772.3 Q1723.1 3761.7 1708.1 3761.7 L1487.3 3761.7 Q1472.3 3761.7 1461.7 3751.1 L1389.1 3678.5"/>
<path d="M1977.8 3954.5 L1783.3 3760.0 Q1772.7 3749.4 1757.7 3749.4 L1616.6 3749.4 Q1601.6 3749.4 1591.0 3738.8 L1473.4 3621.2"/>
<path d="M1918.8 3797.1 L1873.2 3751.5 Q1862.6 3740.9 1847.6 3740.9 L1717.4 3740.9 Q1702.4 3740.9 1691.8 3730.3 L1563.0 3601.5"/>
<path d="M2135.2 3805.6 L2061.5 3731.9 Q2050.9 3721.3 2035.9 3721.3 L1734.2 3721.3 Q1719.2 3721.3 1708.6 3710.7 L1579.1 3581.2 Q1568.5 3570.6 1553.5 3570.6 L1400.3 3570.6"/>
<path d="M2129.6 3701.6 L1738.2 3701.6 Q1723.2 3701.6 1712.6 3691.0 L1604.6 3583.0"/>
<path d="M1963.8 3679.1 L1746.0 3679.1 Q1731.0 3679.1 1720.4 3668.5 L1579.8 3527.9"/>
<path d="M1738.9 3633.0 L1630.3 3524.4 Q1619.7 3513.8 1604.7 3513.8 L1459.4 3513.8"/>
<path d="M2135.2 3576.8 L2089.0 3530.6 Q2078.4 3520.0 2063.4 3520.0 L1658.0 3520.0"/>
<path d="M1851.3 3539.1 L1700.7 3539.1"/>
<path d="M1886.7 3471.7 L1705.2 3471.7"/>
<path d="M2132.4 3431.8 L2091.3 3390.7 Q2080.7 3380.1 2065.7 3380.1 L1858.1 3380.1"/>
<path d="M1965.4 3312.4 L1873.8 3312.4"/>
<path d="M2132.4 3266.9 L1977.6 3266.9 Q1962.6 3266.9 1952.0 3256.3 L1914.8 3219.1"/>
<path d="M2032.9 3164.6 L1935.6 3164.6"/>
<path d="M2125.1 3101.1 L1960.9 3101.1"/>
<path d="M2018.3 3012.8 L1924.4 3012.8"/>
<path d="M2132.4 2911.6 L1966.6 2911.6"/>
<path d="M2002.0 2869.5 L1939.4 2869.5 Q1924.4 2869.5 1913.8 2858.9 L1899.1 2844.2"/>
<path d="M2133.5 2767.2 L2042.9 2767.2 Q2027.9 2767.2 2017.3 2777.8 L1966.6 2828.5"/>
<path d="M2133.5 2668.3 L2093.3 2668.3 Q2078.3 2668.3 2067.7 2678.9 L1962.0 2784.6"/>
<path d="M2138.0 2542.2 L1898.0 2780.1"/>
<path d="M1993.0 2626.1 L1925.5 2694.0"/>
<path d="M2150.4 2469.1 L2105.9 2513.6 Q2095.3 2524.2 2080.3 2524.2 L1841.2 2524.2"/>
<path d="M1949.7 2431.4 L1802.4 2431.4"/>
<path d="M2135.2 2338.1 L2099.0 2374.3 Q2088.4 2384.9 2073.4 2384.9 L1835.7 2384.9"/>
<path d="M1949.7 2326.9 L1877.0 2326.9 Q1862.0 2326.9 1851.4 2337.5 L1714.7 2474.2"/>
<path d="M2132.4 2251.0 L1900.6 2251.0 Q1885.6 2251.0 1875.0 2261.6 L1769.3 2367.3"/>
<path d="M1954.2 2190.9 L1940.7 2190.9 Q1927.2 2190.9 1917.7 2200.4 L1760.3 2357.8 Q1749.7 2368.4 1734.7 2368.4 L1683.9 2368.4"/>
<path d="M2132.4 2136.9 L1962.1 2136.9 Q1947.1 2136.9 1936.5 2147.5 L1759.5 2324.5"/>
<path d="M1938.5 2096.4 L1730.7 2302.3"/>
<path d="M2136.9 1979.5 L2019.0 1979.5 Q2004.0 1979.5 1993.4 1990.1 L1598.6 2384.9"/>
<path d="M2133.5 1830.4 L1663.9 2298.8"/>
<path d="M2043.6 1892.8 L1673.5 2262.9 Q1662.9 2273.5 1647.9 2273.5 L1563.8 2273.5"/>
<path d="M1819.3 1836.5 L1561.0 2095.7"/>
<path d="M1831.0 1930.6 L1783.0 1930.6 Q1768.0 1930.6 1757.4 1941.2 L1564.3 2134.3 Q1553.7 2144.9 1538.7 2144.9 L1507.5 2144.9"/>
<path d="M1742.8 2006.5 L1598.0 2151.3 Q1589.1 2160.2 1589.1 2172.8 L1589.1 2185.3"/>
<path d="M1691.1 2166.7 L1629.1 2227.5"/>
<path d="M1518.8 1939.7 L1377.9 2079.0"/>
<path d="M1671.4 1891.1 L1541.7 2020.8 Q1531.1 2031.4 1516.1 2031.4 L1481.2 2031.4"/>
<path d="M1789.5 1790.0 L1523.1 2056.4 Q1515.4 2064.1 1504.5 2064.1 L1493.5 2064.1"/>
<path d="M2056.5 1697.1 L1919.7 1697.1 Q1904.7 1697.1 1894.1 1707.7 L1538.5 2063.3 Q1527.9 2073.9 1512.9 2073.9 L1466.1 2073.9"/>
<path d="M1918.8 1753.4 L1886.0 1753.4 Q1871.0 1753.4 1860.4 1764.0 L1544.2 2080.2 Q1533.6 2090.8 1518.6 2090.8 L1495.2 2090.8"/>
<path d="M2055.4 1617.3 L2009.8 1662.9 Q1999.2 1673.5 1984.2 1673.5 L1753.2 1673.5 Q1738.2 1673.5 1727.6 1684.1 L1451.3 1960.4"/>
<path d="M1903.6 1582.5 L1831.2 1582.5 Q1816.2 1582.5 1805.6 1593.1 L1414.4 1984.3"/>
<path d="M1903.6 1507.2 L1865.8 1507.2 Q1850.8 1507.2 1840.2 1517.8 L1400.0 1958.0"/>
<path d="M1906.4 1406.5 L1426.2 1885.8"/>
<path d="M1937.3 1306.5 L1418.8 1824.6"/>
<path d="M1499.8 1636.4 L1346.0 1790.9"/>
<path d="M1616.9 1490.3 L1576.7 1490.3 Q1561.7 1490.3 1551.1 1500.9 L1251.6 1800.4"/>
<path d="M1720.3 1385.2 L1642.7 1385.2 Q1627.7 1385.2 1617.1 1395.8 L1290.2 1722.7"/>
<path d="M1720.3 1282.3 L1697.7 1282.3 Q1682.7 1282.3 1672.1 1292.9 L1282.0 1683.0 Q1271.4 1693.6 1256.4 1693.6 L1237.9 1693.6"/>
<path d="M1601.2 1311.0 L1257.6 1653.9"/>
<path d="M1444.7 1416.1 L1210.8 1649.3"/>
<path d="M1359.3 1299.7 L1359.3 1471.8 Q1359.3 1486.8 1348.7 1497.4 L1205.9 1640.2"/>
<path d="M1269.4 1418.9 L1269.4 1508.9 Q1269.4 1523.9 1258.8 1534.5 L1184.8 1608.5"/>
<path d="M1182.0 1300.9 L1182.0 1555.5"/>
<path d="M1071.5 1263.2 L1071.5 1441.0 Q1071.5 1456.0 1082.1 1466.6 L1179.5 1564.0"/>
<path d="M1048.5 1367.2 L1048.5 1516.2 Q1048.5 1531.2 1059.1 1541.8 L1155.0 1637.7"/>
<path d="M1026.5 1524.6 L1146.9 1644.4"/>
</g>
<g fill="#231f20">
<circle cx="1182.0" cy="1555.5" r="4.3"/>
<circle cx="1179.5" cy="1564.0" r="4.3"/>
<circle cx="1184.8" cy="1608.5" r="4.3"/>
<circle cx="1257.6" cy="1653.9" r="4.3"/>
<circle cx="1122.6" cy="1653.2" r="4.3"/>
<circle cx="1103.0" cy="1683.0" r="4.3"/>
<circle cx="1155.0" cy="1637.7" r="4.3"/>
<circle cx="1146.9" cy="1644.4" r="4.3"/>
<circle cx="1205.9" cy="1640.2" r="4.3"/>
<circle cx="1210.8" cy="1649.3" r="4.3"/>
<circle cx="1237.9" cy="1693.6" r="4.3"/>
<circle cx="1114.9" cy="1705.5" r="4.3"/>
<circle cx="1086.8" cy="1735.7" r="4.3"/>
<circle cx="1087.8" cy="1771.9" r="4.3"/>
<circle cx="1290.2" cy="1722.7" r="4.3"/>
<circle cx="1251.6" cy="1800.4" r="4.3"/>
<circle cx="1346.0" cy="1790.9" r="4.3"/>
<circle cx="1418.8" cy="1824.6" r="4.3"/>
<circle cx="1426.2" cy="1885.8" r="4.3"/>
<circle cx="971.5" cy="1872.1" r="4.3"/>
<circle cx="990.8" cy="1947.0" r="4.3"/>
<circle cx="915.2" cy="1977.9" r="4.3"/>
<circle cx="945.8" cy="1953.3" r="4.3"/>
<circle cx="952.5" cy="1981.4" r="4.3"/>
<circle cx="909.3" cy="2004.3" r="4.3"/>
<circle cx="936.7" cy="2025.7" r="4.3"/>
<circle cx="866.4" cy="2079.1" r="4.3"/>
<circle cx="970.4" cy="2114.9" r="4.3"/>
<circle cx="1032.6" cy="2129.7" r="4.3"/>
<circle cx="1171.7" cy="2145.5" r="4.3"/>
<circle cx="897.7" cy="2158.2" r="4.3"/>
<circle cx="789.2" cy="2178.5" r="4.3"/>
<circle cx="1111.7" cy="2204.2" r="4.3"/>
<circle cx="1010.8" cy="2229.1" r="4.3"/>
<circle cx="1239.2" cy="2213.0" r="4.3"/>
<circle cx="724.5" cy="2270.7" r="4.3"/>
<circle cx="816.7" cy="2288.7" r="4.3"/>
<circle cx="621.1" cy="2307.2" r="4.3"/>
<circle cx="621.1" cy="2655.2" r="4.3"/>
<circle cx="1400.0" cy="1958.0" r="4.3"/>
<circle cx="1451.3" cy="1960.4" r="4.3"/>
<circle cx="1414.4" cy="1984.3" r="4.3"/>
<circle cx="1481.2" cy="2031.4" r="4.3"/>
<circle cx="1377.9" cy="2079.0" r="4.3"/>
<circle cx="1466.1" cy="2073.9" r="4.3"/>
<circle cx="1493.5" cy="2064.1" r="4.3"/>
<circle cx="1495.2" cy="2090.8" r="4.3"/>
<circle cx="1561.0" cy="2095.7" r="4.3"/>
<circle cx="1507.5" cy="2144.9" r="4.3"/>
<circle cx="1589.1" cy="2185.3" r="4.3"/>
<circle cx="1629.1" cy="2227.5" r="4.3"/>
<circle cx="1563.8" cy="2273.5" r="4.3"/>
<circle cx="1663.9" cy="2298.8" r="4.3"/>
<circle cx="1730.7" cy="2302.3" r="4.3"/>
<circle cx="1759.5" cy="2324.5" r="4.3"/>
<circle cx="1683.9" cy="2368.4" r="4.3"/>
<circle cx="1769.3" cy="2367.3" r="4.3"/>
<circle cx="1835.7" cy="2384.9" r="4.3"/>
<circle cx="1598.6" cy="2384.9" r="4.3"/>
<circle cx="1802.4" cy="2431.4" r="4.3"/>
<circle cx="1714.7" cy="2474.2" r="4.3"/>
<circle cx="1841.2" cy="2524.2" r="4.3"/>
<circle cx="1925.5" cy="2694.0" r="4.3"/>
<circle cx="1898.0" cy="2780.1" r="4.3"/>
<circle cx="1962.0" cy="2784.6" r="4.3"/>
<circle cx="1966.6" cy="2828.5" r="4.3"/>
<circle cx="1899.1" cy="2844.2" r="4.3"/>
<circle cx="1966.6" cy="2911.6" r="4.3"/>
<circle cx="1924.4" cy="3012.8" r="4.3"/>
<circle cx="1960.9" cy="3101.1" r="4.3"/>
<circle cx="1935.6" cy="3164.6" r="4.3"/>
<circle cx="1914.8" cy="3219.1" r="4.3"/>
<circle cx="1873.8" cy="3312.4" r="4.3"/>
<circle cx="1858.1" cy="3380.1" r="4.3"/>
<circle cx="1705.2" cy="3471.7" r="4.3"/>
<circle cx="1700.7" cy="3539.1" r="4.3"/>
<circle cx="1658.0" cy="3520.0" r="4.3"/>
<circle cx="1459.4" cy="3513.8" r="4.3"/>
<circle cx="1579.8" cy="3527.9" r="4.3"/>
<circle cx="1604.6" cy="3583.0" r="4.3"/>
<circle cx="1563.0" cy="3601.5" r="4.3"/>
<circle cx="1400.3" cy="3570.6" r="4.3"/>
<circle cx="1473.4" cy="3621.2" r="4.3"/>
<circle cx="1389.1" cy="3678.5" r="4.3"/>
<circle cx="1262.6" cy="3602.1" r="4.3"/>
<circle cx="1308.7" cy="3663.4" r="4.3"/>
<circle cx="1271.6" cy="3643.1" r="4.3"/>
<circle cx="1230.0" cy="3677.4" r="4.3"/>
<circle cx="1212.6" cy="3599.3" r="4.3"/>
<circle cx="1162.6" cy="3670.7" r="4.3"/>
<circle cx="1101.9" cy="3574.5" r="4.3"/>
<circle cx="1083.9" cy="3660.6" r="4.3"/>
<circle cx="976.5" cy="3579.6" r="4.3"/>
<circle cx="958.0" cy="3685.3" r="4.3"/>
<circle cx="919.7" cy="3486.3" r="4.3"/>
<circle cx="911.3" cy="3655.5" r="4.3"/>
<circle cx="886.0" cy="3647.1" r="4.3"/>
<circle cx="861.8" cy="3561.6" r="4.3"/>
<circle cx="804.3" cy="3616.1" r="4.3"/>
<circle cx="810.0" cy="3508.2" r="4.3"/>
<circle cx="741.9" cy="3549.8" r="4.3"/>
<circle cx="697.0" cy="3570.6" r="4.3"/>
<circle cx="657.6" cy="3526.2" r="4.3"/>
<circle cx="637.9" cy="3491.4" r="4.3"/>
<circle cx="602.5" cy="3464.4" r="4.3"/>
<circle cx="606.5" cy="3422.8" r="4.3"/>
<circle cx="573.9" cy="3420.0" r="4.3"/>
<circle cx="447.4" cy="3239.9" r="4.3"/>
<circle cx="385.0" cy="3172.5" r="4.3"/>
<circle cx="396.8" cy="2935.3" r="4.3"/>
<circle cx="399.6" cy="2889.2" r="4.3"/>
<circle cx="400.0" cy="2873.4" r="4.3"/>
<circle cx="400.7" cy="2805.4" r="4.3"/>
<circle cx="415.3" cy="2748.1" r="4.3"/>
<circle cx="405.2" cy="2703.1" r="4.3"/>
<circle cx="439.0" cy="2676.1" r="4.3"/>
</g>
<text transform="translate(1177.0 1684.8) scale(0.900 1)" font-size="24.5" fill="#0c0c0c" text-anchor="middle" stroke="#0c0c0c" stroke-width="0.5">Oman</text>
<text transform="translate(1177.0 1713.7) scale(1.070 1)" font-size="32.6" font-weight="bold" fill="#0c0c0c" text-anchor="middle">46.5</text>
<text transform="translate(1162.3 1799.7) scale(1.000 1)" font-size="26.9" fill="#0c0c0c" text-anchor="middle" stroke="#0c0c0c" stroke-width="0.5">Hungary</text>
<text transform="translate(1162.3 1846.6) scale(1.070 1)" font-size="47.3" font-weight="bold" fill="#0c0c0c" text-anchor="middle">60.6</text>
<text transform="translate(1028.8 1819.5) scale(0.917 1)" font-size="26.0" fill="#0c0c0c" text-anchor="middle" stroke="#0c0c0c" stroke-width="0.5">Kazakhstan</text>
<text transform="translate(1028.8 1852.7) scale(1.070 1)" font-size="37.5" font-weight="bold" fill="#0c0c0c" text-anchor="middle">56</text>
<text transform="translate(1286.7 1882.4) scale(1.000 1)" font-size="23.7" fill="#0c0c0c" text-anchor="middle" stroke="#0c0c0c" stroke-width="0.5">Barbados</text>
<text transform="translate(1286.7 1914.2) scale(1.070 1)" font-size="33.3" font-weight="bold" fill="#0c0c0c" text-anchor="middle">47.8</text>
<text transform="translate(1161.5 1967.2) scale(0.940 1)" font-size="31.0" fill="#0c0c0c" text-anchor="middle" stroke="#0c0c0c" stroke-width="0.5">Spain</text>
<text transform="translate(1161.5 2017.1) scale(1.070 1)" font-size="50.0" font-weight="bold" fill="#0c0c0c" text-anchor="middle">94.8</text>
<text transform="translate(1010.1 2024.7) scale(1.000 1)" font-size="26.5" fill="#0c0c0c" text-anchor="middle" stroke="#0c0c0c" stroke-width="0.5">Cuba</text>
<text transform="translate(1010.1 2062.5) scale(1.070 1)" font-size="42.7" font-weight="bold" fill="#0c0c0c" text-anchor="middle">46</text>
<text transform="translate(1331.2 1990.6) scale(1.000 1)" font-size="25.5" fill="#0c0c0c" text-anchor="middle" stroke="#0c0c0c" stroke-width="0.5">Ukraine</text>
<text transform="translate(1331.2 2030.3) scale(1.070 1)" font-size="42.4" font-weight="bold" fill="#0c0c0c" text-anchor="middle">55.1</text>
<text transform="translate(1281.7 2101.5) scale(1.000 1)" font-size="26.4" fill="#0c0c0c" text-anchor="middle" stroke="#0c0c0c" stroke-width="0.5">Latvia</text>
<text transform="translate(1281.7 2141.9) scale(1.070 1)" font-size="42.2" font-weight="bold" fill="#0c0c0c" text-anchor="middle">57.7</text>
<text transform="translate(1390.2 2167.7) scale(1.000 1)" font-size="25.8" fill="#0c0c0c" text-anchor="middle" stroke="#0c0c0c" stroke-width="0.5">Russia</text>
<text transform="translate(1390.2 2205.3) scale(1.070 1)" font-size="40.3" font-weight="bold" fill="#0c0c0c" text-anchor="middle">55.8</text>
<text transform="translate(1326.1 2270.3) scale(1.000 1)" font-size="26.3" fill="#0c0c0c" text-anchor="middle" stroke="#0c0c0c" stroke-width="0.5">Kuwait</text>
<text transform="translate(1326.1 2309.4) scale(1.070 1)" font-size="40.1" font-weight="bold" fill="#0c0c0c" text-anchor="middle">57.2</text>
<text transform="translate(1449.2 2270.9) scale(1.000 1)" font-size="25.1" fill="#0c0c0c" text-anchor="middle" stroke="#0c0c0c" stroke-width="0.5">Georgia</text>
<text transform="translate(1449.2 2308.9) scale(1.070 1)" font-size="39.3" font-weight="bold" fill="#0c0c0c" text-anchor="middle">52.3</text>
<text transform="translate(1165.4 2299.7) scale(1.000 1)" font-size="26.3" fill="#0c0c0c" text-anchor="middle" stroke="#0c0c0c" stroke-width="0.5">Lithuania</text>
<text transform="translate(1165.4 2336.4) scale(1.070 1)" font-size="38.4" font-weight="bold" fill="#0c0c0c" text-anchor="middle">57.4</text>
<text transform="translate(1053.0 2280.4) scale(1.000 1)" font-size="26.4" fill="#0c0c0c" text-anchor="middle" stroke="#0c0c0c" stroke-width="0.5">Tonga</text>
<text transform="translate(1053.0 2311.1) scale(1.070 1)" font-size="30.9" font-weight="bold" fill="#0c0c0c" text-anchor="middle">42.8</text>
<text transform="translate(939.5 2286.6) scale(1.000 1)" font-size="27.0" fill="#0c0c0c" text-anchor="middle" stroke="#0c0c0c" stroke-width="0.5">Belarus</text>
<text transform="translate(939.5 2332.5) scale(1.070 1)" font-size="45.5" font-weight="bold" fill="#0c0c0c" text-anchor="middle">60.7</text>
<text transform="translate(727.3 2347.7) scale(1.000 1)" font-size="27.4" fill="#0c0c0c" text-anchor="middle" stroke="#0c0c0c" stroke-width="0.5">Armenia</text>
<text transform="translate(727.3 2394.8) scale(1.070 1)" font-size="46.8" font-weight="bold" fill="#0c0c0c" text-anchor="middle">61.7</text>
<text transform="translate(602.0 2416.6) scale(1.000 1)" font-size="27.8" fill="#0c0c0c" text-anchor="middle" stroke="#0c0c0c" stroke-width="0.5">Mauritius</text>
<text transform="translate(602.0 2463.8) scale(1.070 1)" font-size="46.8" font-weight="bold" fill="#0c0c0c" text-anchor="middle">63.6</text>
<text transform="translate(857.5 2402.0) scale(1.000 1)" font-size="27.9" fill="#0c0c0c" text-anchor="middle" stroke="#0c0c0c" stroke-width="0.5">Slovakia</text>
<text transform="translate(857.5 2450.6) scale(1.070 1)" font-size="47.2" font-weight="bold" fill="#0c0c0c" text-anchor="middle">64.6</text>
<text transform="translate(1038.3 2429.9) scale(0.950 1)" font-size="31.0" fill="#0c0c0c" text-anchor="middle" stroke="#0c0c0c" stroke-width="0.5">Sweden</text>
<text transform="translate(1038.3 2479.3) scale(1.070 1)" font-size="50.0" font-weight="bold" fill="#0c0c0c" text-anchor="middle">97.8</text>
<text transform="translate(1266.0 2429.9) scale(0.950 1)" font-size="31.0" fill="#0c0c0c" text-anchor="middle" stroke="#0c0c0c" stroke-width="0.5">Italy</text>
<text transform="translate(1266.0 2479.3) scale(1.070 1)" font-size="50.0" font-weight="bold" fill="#0c0c0c" text-anchor="middle">97.8</text>
<text transform="translate(1447.0 2396.6) scale(1.000 1)" font-size="28.2" fill="#0c0c0c" text-anchor="middle" stroke="#0c0c0c" stroke-width="0.5">Poland</text>
<text transform="translate(1447.0 2445.1) scale(1.070 1)" font-size="48.1" font-weight="bold" fill="#0c0c0c" text-anchor="middle">65.7</text>
<text transform="translate(733.5 2521.7) scale(0.950 1)" font-size="31.0" fill="#0c0c0c" text-anchor="middle" stroke="#0c0c0c" stroke-width="0.5">Japan</text>
<text transform="translate(733.5 2571.1) scale(1.070 1)" font-size="50.0" font-weight="bold" fill="#0c0c0c" text-anchor="middle">91.7</text>
<text transform="translate(558.0 2529.4) scale(0.950 1)" font-size="28.1" fill="#0c0c0c" text-anchor="middle" stroke="#0c0c0c" stroke-width="0.5">Czech</text>
<text transform="translate(558.0 2557.9) scale(0.950 1)" font-size="28.1" fill="#0c0c0c" text-anchor="middle" stroke="#0c0c0c" stroke-width="0.5">Republic</text>
<text transform="translate(558.0 2605.5) scale(1.070 1)" font-size="47.8" font-weight="bold" fill="#0c0c0c" text-anchor="middle">65.2</text>
<text transform="translate(1570.0 2522.2) scale(1.000 1)" font-size="27.3" fill="#0c0c0c" text-anchor="middle" stroke="#0c0c0c" stroke-width="0.5">Canada</text>
<text transform="translate(1570.0 2571.6) scale(1.070 1)" font-size="51.5" font-weight="bold" fill="#0c0c0c" text-anchor="middle">90.9</text>
<text transform="translate(1733.3 2586.1) scale(1.000 1)" font-size="27.4" fill="#0c0c0c" text-anchor="middle" stroke="#0c0c0c" stroke-width="0.5">Uruguay</text>
<text transform="translate(1733.3 2635.7) scale(1.070 1)" font-size="45.5" font-weight="bold" fill="#0c0c0c" text-anchor="middle">61.8</text>
<text transform="translate(1859.8 2615.2) scale(1.000 1)" font-size="21.2" fill="#0c0c0c" text-anchor="middle" stroke="#0c0c0c" stroke-width="0.5">North</text>
<text transform="translate(1859.8 2638.8) scale(1.000 1)" font-size="21.2" fill="#0c0c0c" text-anchor="middle" stroke="#0c0c0c" stroke-width="0.5">Macedonia</text>
<text transform="translate(1859.8 2678.6) scale(1.070 1)" font-size="41.3" font-weight="bold" fill="#0c0c0c" text-anchor="middle">58.3</text>
<text transform="translate(924.2 2634.5) scale(0.940 1)" font-size="31.0" fill="#0c0c0c" text-anchor="middle" stroke="#0c0c0c" stroke-width="0.5">Norway</text>
<text transform="translate(924.2 2685.3) scale(1.000 1)" font-size="51.5" font-weight="bold" fill="#0c0c0c" text-anchor="middle">100</text>
<text transform="translate(1152.7 2634.5) scale(0.940 1)" font-size="31.0" fill="#0c0c0c" text-anchor="middle" stroke="#0c0c0c" stroke-width="0.5">Finland</text>
<text transform="translate(1152.7 2685.3) scale(1.000 1)" font-size="51.5" font-weight="bold" fill="#0c0c0c" text-anchor="middle">100</text>
<text transform="translate(1379.5 2634.5) scale(0.940 1)" font-size="31.0" fill="#0c0c0c" text-anchor="middle" stroke="#0c0c0c" stroke-width="0.5">Switzerland</text>
<text transform="translate(1379.5 2685.3) scale(1.000 1)" font-size="51.5" font-weight="bold" fill="#0c0c0c" text-anchor="middle">100</text>
<text transform="translate(924.2 2861.5) scale(0.940 1)" font-size="31.0" fill="#0c0c0c" text-anchor="middle" stroke="#0c0c0c" stroke-width="0.5">Ireland</text>
<text transform="translate(924.2 2912.3) scale(1.000 1)" font-size="51.5" font-weight="bold" fill="#0c0c0c" text-anchor="middle">100</text>
<text transform="translate(1152.7 2861.5) scale(0.940 1)" font-size="31.0" fill="#0c0c0c" text-anchor="middle" stroke="#0c0c0c" stroke-width="0.5">Austria</text>
<text transform="translate(1152.7 2912.3) scale(1.000 1)" font-size="51.5" font-weight="bold" fill="#0c0c0c" text-anchor="middle">100</text>
<text transform="translate(1379.5 2861.5) scale(0.940 1)" font-size="31.0" fill="#0c0c0c" text-anchor="middle" stroke="#0c0c0c" stroke-width="0.5">Iceland</text>
<text transform="translate(1379.5 2912.3) scale(1.000 1)" font-size="51.5" font-weight="bold" fill="#0c0c0c" text-anchor="middle">100</text>
<text transform="translate(924.2 3089.1) scale(0.960 1)" font-size="31.0" fill="#0c0c0c" text-anchor="middle" stroke="#0c0c0c" stroke-width="0.5">Netherlands</text>
<text transform="translate(924.2 3139.9) scale(1.000 1)" font-size="51.5" font-weight="bold" fill="#0c0c0c" text-anchor="middle">100</text>
<text transform="translate(1152.7 3088.1) scale(0.940 1)" font-size="31.0" fill="#0c0c0c" text-anchor="middle" stroke="#0c0c0c" stroke-width="0.5">Greece</text>
<text transform="translate(1152.7 3138.9) scale(1.000 1)" font-size="51.5" font-weight="bold" fill="#0c0c0c" text-anchor="middle">100</text>
<text transform="translate(1379.5 3088.1) scale(0.940 1)" font-size="31.0" fill="#0c0c0c" text-anchor="middle" stroke="#0c0c0c" stroke-width="0.5">Malta</text>
<text transform="translate(1379.5 3138.9) scale(1.000 1)" font-size="51.5" font-weight="bold" fill="#0c0c0c" text-anchor="middle">100</text>
<text transform="translate(531.1 2690.3) scale(1.000 1)" font-size="27.3" fill="#0c0c0c" text-anchor="middle" stroke="#0c0c0c" stroke-width="0.5">Brunei</text>
<text transform="translate(531.1 2719.3) scale(1.000 1)" font-size="27.3" fill="#0c0c0c" text-anchor="middle" stroke="#0c0c0c" stroke-width="0.5">Darussalam</text>
<text transform="translate(531.1 2768.0) scale(1.070 1)" font-size="45.5" font-weight="bold" fill="#0c0c0c" text-anchor="middle">79.9</text>
<text transform="translate(730.7 2739.1) scale(0.950 1)" font-size="31.0" fill="#0c0c0c" text-anchor="middle" stroke="#0c0c0c" stroke-width="0.5">Germany</text>
<text transform="translate(730.7 2787.0) scale(1.070 1)" font-size="50.0" font-weight="bold" fill="#0c0c0c" text-anchor="middle">98.6</text>
<text transform="translate(1575.0 2727.5) scale(0.935 1)" font-size="31.0" fill="#0c0c0c" text-anchor="middle" stroke="#0c0c0c" stroke-width="0.5">United</text>
<text transform="translate(1575.0 2758.5) scale(0.935 1)" font-size="31.0" fill="#0c0c0c" text-anchor="middle" stroke="#0c0c0c" stroke-width="0.5">Kingdom</text>
<text transform="translate(1575.0 2810.1) scale(1.000 1)" font-size="51.5" font-weight="bold" fill="#0c0c0c" text-anchor="middle">100</text>
<text transform="translate(1758.0 2722.5) scale(1.000 1)" font-size="27.7" fill="#0c0c0c" text-anchor="middle" stroke="#0c0c0c" stroke-width="0.5">Croatia</text>
<text transform="translate(1758.0 2770.5) scale(1.070 1)" font-size="49.3" font-weight="bold" fill="#0c0c0c" text-anchor="middle">63.3</text>
<text transform="translate(536.2 2875.3) scale(0.950 1)" font-size="31.0" fill="#0c0c0c" text-anchor="middle" stroke="#0c0c0c" stroke-width="0.5">South</text>
<text transform="translate(536.2 2908.1) scale(0.950 1)" font-size="31.0" fill="#0c0c0c" text-anchor="middle" stroke="#0c0c0c" stroke-width="0.5">Korea</text>
<text transform="translate(536.2 2956.0) scale(1.070 1)" font-size="50.0" font-weight="bold" fill="#0c0c0c" text-anchor="middle">84.6</text>
<text transform="translate(729.6 2973.1) scale(0.945 1)" font-size="31.0" fill="#0c0c0c" text-anchor="middle" stroke="#0c0c0c" stroke-width="0.5">Luxembourg</text>
<text transform="translate(729.6 3021.0) scale(1.070 1)" font-size="50.0" font-weight="bold" fill="#0c0c0c" text-anchor="middle">97.9</text>
<text transform="translate(1570.3 2972.1) scale(0.940 1)" font-size="31.0" fill="#0c0c0c" text-anchor="middle" stroke="#0c0c0c" stroke-width="0.5">Denmark</text>
<text transform="translate(1570.3 3020.0) scale(1.070 1)" font-size="50.0" font-weight="bold" fill="#0c0c0c" text-anchor="middle">95.8</text>
<text transform="translate(1722.0 2861.1) scale(1.000 1)" font-size="28.5" fill="#0c0c0c" text-anchor="middle" stroke="#0c0c0c" stroke-width="0.5">Taiwan</text>
<text transform="translate(1722.0 2910.6) scale(1.070 1)" font-size="49.1" font-weight="bold" fill="#0c0c0c" text-anchor="middle">67.2</text>
<text transform="translate(1856.4 2886.2) scale(1.000 1)" font-size="25.5" fill="#0c0c0c" text-anchor="middle" stroke="#0c0c0c" stroke-width="0.5">Jordan</text>
<text transform="translate(1856.4 2923.9) scale(1.070 1)" font-size="39.3" font-weight="bold" fill="#0c0c0c" text-anchor="middle">54.4</text>
<text transform="translate(415.3 3037.4) scale(1.050 1)" font-size="24.6" fill="#0c0c0c" text-anchor="middle" stroke="#0c0c0c" stroke-width="0.5">Mexico</text>
<text transform="translate(415.3 3078.2) scale(1.070 1)" font-size="43.3" font-weight="bold" fill="#0c0c0c" text-anchor="middle">50</text>
<text transform="translate(559.2 3081.8) scale(0.965 1)" font-size="31.0" fill="#0c0c0c" text-anchor="middle" stroke="#0c0c0c" stroke-width="0.5">Portugal</text>
<text transform="translate(559.2 3131.7) scale(1.070 1)" font-size="50.0" font-weight="bold" fill="#0c0c0c" text-anchor="middle">85.7</text>
<text transform="translate(1782.7 2995.0) scale(1.000 1)" font-size="28.5" fill="#0c0c0c" text-anchor="middle" stroke="#0c0c0c" stroke-width="0.5">Chile</text>
<text transform="translate(1782.7 3044.5) scale(1.070 1)" font-size="51.0" font-weight="bold" fill="#0c0c0c" text-anchor="middle">66.8</text>
<text transform="translate(1681.6 3114.1) scale(1.000 1)" font-size="26.0" fill="#0c0c0c" text-anchor="middle" stroke="#0c0c0c" stroke-width="0.5">Slovenia</text>
<text transform="translate(1681.6 3162.0) scale(1.070 1)" font-size="48.0" font-weight="bold" fill="#0c0c0c" text-anchor="middle">70.3</text>
<text transform="translate(1865.4 3116.8) scale(0.950 1)" font-size="25.9" fill="#0c0c0c" text-anchor="middle" stroke="#0c0c0c" stroke-width="0.5">Romania</text>
<text transform="translate(1865.4 3155.1) scale(1.070 1)" font-size="40.5" font-weight="bold" fill="#0c0c0c" text-anchor="middle">55.4</text>
<text transform="translate(732.4 3182.0) scale(0.950 1)" font-size="31.0" fill="#0c0c0c" text-anchor="middle" stroke="#0c0c0c" stroke-width="0.5">Belgium</text>
<text transform="translate(732.4 3229.9) scale(1.070 1)" font-size="50.0" font-weight="bold" fill="#0c0c0c" text-anchor="middle">93</text>
<text transform="translate(1537.0 3226.2) scale(0.950 1)" font-size="31.0" fill="#0c0c0c" text-anchor="middle" stroke="#0c0c0c" stroke-width="0.5">Cyprus</text>
<text transform="translate(1537.0 3273.4) scale(1.070 1)" font-size="50.0" font-weight="bold" fill="#0c0c0c" text-anchor="middle">91.8</text>
<text transform="translate(1791.2 3222.1) scale(1.000 1)" font-size="26.5" fill="#0c0c0c" text-anchor="middle" stroke="#0c0c0c" stroke-width="0.5">Bulgaria</text>
<text transform="translate(1791.2 3263.0) scale(1.070 1)" font-size="42.7" font-weight="bold" fill="#0c0c0c" text-anchor="middle">58</text>
<text transform="translate(552.5 3284.5) scale(0.920 1)" font-size="31.0" fill="#0c0c0c" text-anchor="middle" stroke="#0c0c0c" stroke-width="0.5">Singapore</text>
<text transform="translate(552.5 3333.9) scale(1.070 1)" font-size="50.0" font-weight="bold" fill="#0c0c0c" text-anchor="middle">88.9</text>
<text transform="translate(911.3 3294.7) scale(0.950 1)" font-size="31.0" fill="#0c0c0c" text-anchor="middle" stroke="#0c0c0c" stroke-width="0.5">Israel</text>
<text transform="translate(911.3 3344.6) scale(1.070 1)" font-size="50.0" font-weight="bold" fill="#0c0c0c" text-anchor="middle">93.8</text>
<text transform="translate(1108.0 3277.7) scale(0.950 1)" font-size="31.0" fill="#0c0c0c" text-anchor="middle" stroke="#0c0c0c" stroke-width="0.5">Australia</text>
<text transform="translate(1108.0 3325.6) scale(1.070 1)" font-size="50.0" font-weight="bold" fill="#0c0c0c" text-anchor="middle">81.2</text>
<text transform="translate(1307.0 3284.7) scale(0.950 1)" font-size="31.0" fill="#0c0c0c" text-anchor="middle" stroke="#0c0c0c" stroke-width="0.5">France</text>
<text transform="translate(1307.0 3334.1) scale(1.070 1)" font-size="50.0" font-weight="bold" fill="#0c0c0c" text-anchor="middle">93.8</text>
<text transform="translate(1692.8 3296.4) scale(1.000 1)" font-size="26.5" fill="#0c0c0c" text-anchor="middle" stroke="#0c0c0c" stroke-width="0.5">China</text>
<text transform="translate(1692.8 3335.8) scale(1.070 1)" font-size="40.6" font-weight="bold" fill="#0c0c0c" text-anchor="middle">58.4</text>
<text transform="translate(724.0 3362.0) scale(0.910 1)" font-size="31.0" fill="#0c0c0c" text-anchor="middle" stroke="#0c0c0c" stroke-width="0.5">United</text>
<text transform="translate(724.0 3393.0) scale(0.910 1)" font-size="31.0" fill="#0c0c0c" text-anchor="middle" stroke="#0c0c0c" stroke-width="0.5">States of</text>
<text transform="translate(724.0 3424.0) scale(0.910 1)" font-size="31.0" fill="#0c0c0c" text-anchor="middle" stroke="#0c0c0c" stroke-width="0.5">America</text>
<text transform="translate(724.0 3472.1) scale(1.070 1)" font-size="50.0" font-weight="bold" fill="#0c0c0c" text-anchor="middle">89.3</text>
<text transform="translate(1040.6 3424.6) scale(1.000 1)" font-size="26.2" fill="#0c0c0c" text-anchor="middle" stroke="#0c0c0c" stroke-width="0.5">Qatar</text>
<text transform="translate(1040.6 3473.8) scale(1.070 1)" font-size="47.8" font-weight="bold" fill="#0c0c0c" text-anchor="middle">57</text>
<text transform="translate(1186.2 3421.9) scale(1.000 1)" font-size="26.2" fill="#0c0c0c" text-anchor="middle" stroke="#0c0c0c" stroke-width="0.5">New</text>
<text transform="translate(1186.2 3451.4) scale(1.000 1)" font-size="26.2" fill="#0c0c0c" text-anchor="middle" stroke="#0c0c0c" stroke-width="0.5">Zealand</text>
<text transform="translate(1186.2 3499.9) scale(1.070 1)" font-size="50.0" font-weight="bold" fill="#0c0c0c" text-anchor="middle">74.5</text>
<text transform="translate(1336.3 3461.8) scale(1.000 1)" font-size="27.0" fill="#0c0c0c" text-anchor="middle" stroke="#0c0c0c" stroke-width="0.5">Serbia</text>
<text transform="translate(1336.3 3501.7) scale(1.070 1)" font-size="40.7" font-weight="bold" fill="#0c0c0c" text-anchor="middle">60.5</text>
<text transform="translate(1455.4 3389.3) scale(0.935 1)" font-size="26.9" fill="#0c0c0c" text-anchor="middle" stroke="#0c0c0c" stroke-width="0.5">Argentina</text>
<text transform="translate(1455.4 3428.7) scale(1.070 1)" font-size="41.6" font-weight="bold" fill="#0c0c0c" text-anchor="middle">59.5</text>
<text transform="translate(1598.4 3389.4) scale(0.900 1)" font-size="26.8" fill="#0c0c0c" text-anchor="middle" stroke="#0c0c0c" stroke-width="0.5">Estonia</text>
<text transform="translate(1598.4 3428.0) scale(1.070 1)" font-size="41.3" font-weight="bold" fill="#0c0c0c" text-anchor="middle">59.2</text>
<text transform="translate(1789.5 3377.7) scale(1.050 1)" font-size="24.6" fill="#0c0c0c" text-anchor="middle" stroke="#0c0c0c" stroke-width="0.5">Bahrain</text>
<text transform="translate(1789.5 3416.0) scale(1.070 1)" font-size="40.1" font-weight="bold" fill="#0c0c0c" text-anchor="middle">50.1</text>
<text transform="translate(483.0 1243.0) scale(1.000 1)" font-size="26.2" fill="#111" text-anchor="start" stroke="#111" stroke-width="0.45">Burkina Faso</text>
<text transform="translate(482.0 1285.6) scale(1.055 1)" font-size="43.8" font-weight="bold" fill="#dba57a" text-anchor="start" stroke="#dba57a" stroke-width="0.7">7.9</text>
<text transform="translate(697.5 1243.0) scale(1.000 1)" font-size="26.2" fill="#111" text-anchor="start" stroke="#111" stroke-width="0.45">Tanzania</text>
<text transform="translate(696.5 1285.6) scale(1.055 1)" font-size="43.8" font-weight="bold" fill="#dba57a" text-anchor="start" stroke="#dba57a" stroke-width="0.7">18.4</text>
<text transform="translate(908.0 1243.0) scale(1.000 1)" font-size="26.2" fill="#111" text-anchor="start" stroke="#111" stroke-width="0.45">Guinea-Bissau</text>
<text transform="translate(907.0 1285.6) scale(1.055 1)" font-size="43.8" font-weight="bold" fill="#dba57a" text-anchor="start" stroke="#dba57a" stroke-width="0.7">6.6</text>
<text transform="translate(1149.0 1243.0) scale(1.000 1)" font-size="26.2" fill="#111" text-anchor="start" stroke="#111" stroke-width="0.45">Niger</text>
<text transform="translate(1148.0 1285.6) scale(1.055 1)" font-size="43.8" font-weight="bold" fill="#dba57a" text-anchor="start" stroke="#dba57a" stroke-width="0.7">1.7</text>
<text transform="translate(1328.4 1243.0) scale(1.000 1)" font-size="26.2" fill="#111" text-anchor="start" stroke="#111" stroke-width="0.45">Madagascar</text>
<text transform="translate(1327.4 1285.6) scale(1.055 1)" font-size="43.8" font-weight="bold" fill="#dba57a" text-anchor="start" stroke="#dba57a" stroke-width="0.7">6.2</text>
<text transform="translate(1533.7 1243.0) scale(1.000 1)" font-size="26.2" fill="#111" text-anchor="start" stroke="#111" stroke-width="0.45">Guatemala</text>
<text transform="translate(1532.7 1285.6) scale(1.055 1)" font-size="43.8" font-weight="bold" fill="#aba08b" text-anchor="start" stroke="#aba08b" stroke-width="0.7">27.2</text>
<text transform="translate(1742.8 1242.0) scale(1.000 1)" font-size="26.2" fill="#111" text-anchor="start" stroke="#111" stroke-width="0.45">Burundi</text>
<text transform="translate(1741.8 1284.6) scale(1.055 1)" font-size="43.8" font-weight="bold" fill="#dba57a" text-anchor="start" stroke="#dba57a" stroke-width="0.7">5.4</text>
<text transform="translate(1925.5 1246.0) scale(1.000 1)" font-size="26.2" fill="#111" text-anchor="start" stroke="#111" stroke-width="0.45">Botswana</text>
<text transform="translate(1924.5 1288.6) scale(1.055 1)" font-size="43.8" font-weight="bold" fill="#aba08b" text-anchor="start" stroke="#aba08b" stroke-width="0.7">20.2</text>
<text transform="translate(373.0 1357.6) scale(1.000 1)" font-size="26.2" fill="#111" text-anchor="start" stroke="#111" stroke-width="0.45">Marshall Islands</text>
<text transform="translate(372.0 1400.2) scale(1.055 1)" font-size="43.8" font-weight="bold" fill="#aba08b" text-anchor="start" stroke="#aba08b" stroke-width="0.7">30.3</text>
<text transform="translate(821.0 1356.5) scale(1.000 1)" font-size="26.2" fill="#111" text-anchor="start" stroke="#111" stroke-width="0.45">Cote</text>
<text transform="translate(821.0 1385.7) scale(1.000 1)" font-size="26.2" fill="#111" text-anchor="start" stroke="#111" stroke-width="0.45">d'Ivoire</text>
<text transform="translate(820.0 1428.3) scale(1.055 1)" font-size="43.8" font-weight="bold" fill="#dba57a" text-anchor="start" stroke="#dba57a" stroke-width="0.7">17</text>
<text transform="translate(963.0 1356.5) scale(1.000 1)" font-size="26.2" fill="#111" text-anchor="start" stroke="#111" stroke-width="0.45">Eritrea</text>
<text transform="translate(962.0 1399.1) scale(1.055 1)" font-size="43.8" font-weight="bold" fill="#dba57a" text-anchor="start" stroke="#dba57a" stroke-width="0.7">6.4</text>
<text transform="translate(1220.5 1356.5) scale(1.000 1)" font-size="26.2" fill="#111" text-anchor="start" stroke="#111" stroke-width="0.45">Guyana</text>
<text transform="translate(1219.5 1399.1) scale(1.055 1)" font-size="43.8" font-weight="bold" fill="#aba08b" text-anchor="start" stroke="#aba08b" stroke-width="0.7">32.6</text>
<text transform="translate(1410.0 1356.5) scale(1.000 1)" font-size="26.2" fill="#111" text-anchor="start" stroke="#111" stroke-width="0.45">Nigeria</text>
<text transform="translate(1409.0 1399.1) scale(1.055 1)" font-size="43.8" font-weight="bold" fill="#dba57a" text-anchor="start" stroke="#dba57a" stroke-width="0.7">4.3</text>
<text transform="translate(1742.8 1358.0) scale(1.000 1)" font-size="26.2" fill="#111" text-anchor="start" stroke="#111" stroke-width="0.45">Thailand</text>
<text transform="translate(1741.8 1400.6) scale(1.055 1)" font-size="43.8" font-weight="bold" fill="#8aa6a4" text-anchor="start" stroke="#8aa6a4" stroke-width="0.7">42.7</text>
<text transform="translate(1924.4 1358.0) scale(1.000 1)" font-size="26.2" fill="#111" text-anchor="start" stroke="#111" stroke-width="0.45">Brazil</text>
<text transform="translate(1923.4 1400.6) scale(1.055 1)" font-size="43.8" font-weight="bold" fill="#8aa6a4" text-anchor="start" stroke="#8aa6a4" stroke-width="0.7">45.2</text>
<text transform="translate(369.0 1473.4) scale(1.000 1)" font-size="26.2" fill="#111" text-anchor="start" stroke="#111" stroke-width="0.45">Republic of</text>
<text transform="translate(369.0 1502.6) scale(1.000 1)" font-size="26.2" fill="#111" text-anchor="start" stroke="#111" stroke-width="0.45">Congo</text>
<text transform="translate(368.0 1545.2) scale(1.055 1)" font-size="43.8" font-weight="bold" fill="#dba57a" text-anchor="start" stroke="#dba57a" stroke-width="0.7">14.5</text>
<text transform="translate(564.0 1471.0) scale(1.000 1)" font-size="26.2" fill="#111" text-anchor="start" stroke="#111" stroke-width="0.45">Ethiopia</text>
<text transform="translate(563.0 1513.6) scale(1.055 1)" font-size="43.8" font-weight="bold" fill="#dba57a" text-anchor="start" stroke="#dba57a" stroke-width="0.7">11.3</text>
<text transform="translate(962.0 1470.6) scale(1.000 1)" font-size="26.2" fill="#111" text-anchor="start" stroke="#111" stroke-width="0.45">Togo</text>
<text transform="translate(961.0 1513.2) scale(1.055 1)" font-size="43.8" font-weight="bold" fill="#dba57a" text-anchor="start" stroke="#dba57a" stroke-width="0.7">4.9</text>
<text transform="translate(1640.5 1470.6) scale(1.000 1)" font-size="26.2" fill="#111" text-anchor="start" stroke="#111" stroke-width="0.45">Myanmar</text>
<text transform="translate(1639.5 1513.2) scale(1.055 1)" font-size="43.8" font-weight="bold" fill="#aba08b" text-anchor="start" stroke="#aba08b" stroke-width="0.7">30</text>
<text transform="translate(1925.5 1470.6) scale(1.000 1)" font-size="26.2" fill="#111" text-anchor="start" stroke="#111" stroke-width="0.45">Papua New Guinea</text>
<text transform="translate(1924.5 1513.2) scale(1.055 1)" font-size="43.8" font-weight="bold" fill="#dba57a" text-anchor="start" stroke="#dba57a" stroke-width="0.7">15.8</text>
<text transform="translate(123.6 1504.0) scale(1.000 1)" font-size="26.2" fill="#111" text-anchor="start" stroke="#111" stroke-width="0.45">Jamaica</text>
<text transform="translate(122.6 1546.6) scale(1.055 1)" font-size="43.8" font-weight="bold" fill="#8aa6a4" text-anchor="start" stroke="#8aa6a4" stroke-width="0.7">47.3</text>
<text transform="translate(1503.8 1582.5) scale(1.000 1)" font-size="26.2" fill="#111" text-anchor="start" stroke="#111" stroke-width="0.45">Malaysia</text>
<text transform="translate(1502.8 1625.1) scale(1.055 1)" font-size="43.8" font-weight="bold" fill="#8aa6a4" text-anchor="start" stroke="#8aa6a4" stroke-width="0.7">48.2</text>
<text transform="translate(1917.6 1582.5) scale(1.000 1)" font-size="26.2" fill="#111" text-anchor="start" stroke="#111" stroke-width="0.45">Bhutan</text>
<text transform="translate(1916.6 1625.1) scale(1.055 1)" font-size="43.8" font-weight="bold" fill="#aba08b" text-anchor="start" stroke="#aba08b" stroke-width="0.7">31.5</text>
<text transform="translate(2069.4 1582.5) scale(1.000 1)" font-size="26.2" fill="#111" text-anchor="start" stroke="#111" stroke-width="0.45">South Africa</text>
<text transform="translate(2068.4 1625.1) scale(1.055 1)" font-size="43.8" font-weight="bold" fill="#aba08b" text-anchor="start" stroke="#aba08b" stroke-width="0.7">23.4</text>
<text transform="translate(123.6 1633.0) scale(1.000 1)" font-size="26.2" fill="#111" text-anchor="start" stroke="#111" stroke-width="0.45">Sudan</text>
<text transform="translate(122.6 1675.6) scale(1.055 1)" font-size="43.8" font-weight="bold" fill="#aba08b" text-anchor="start" stroke="#aba08b" stroke-width="0.7">22.6</text>
<text transform="translate(311.0 1649.0) scale(1.000 1)" font-size="26.2" fill="#111" text-anchor="start" stroke="#111" stroke-width="0.45">Ghana</text>
<text transform="translate(310.0 1691.6) scale(1.055 1)" font-size="43.8" font-weight="bold" fill="#aba08b" text-anchor="start" stroke="#aba08b" stroke-width="0.7">20.4</text>
<text transform="translate(489.0 1649.0) scale(1.000 1)" font-size="26.2" fill="#111" text-anchor="start" stroke="#111" stroke-width="0.45">Cameroon</text>
<text transform="translate(488.0 1691.6) scale(1.055 1)" font-size="43.8" font-weight="bold" fill="#dba57a" text-anchor="start" stroke="#dba57a" stroke-width="0.7">7.5</text>
<text transform="translate(2066.6 1686.0) scale(1.000 1)" font-size="26.2" fill="#111" text-anchor="start" stroke="#111" stroke-width="0.45">Guyana</text>
<text transform="translate(2065.6 1728.6) scale(1.055 1)" font-size="43.8" font-weight="bold" fill="#aba08b" text-anchor="start" stroke="#aba08b" stroke-width="0.7">32.6</text>
<text transform="translate(1719.8 1728.0) scale(1.000 1)" font-size="26.2" fill="#111" text-anchor="start" stroke="#111" stroke-width="0.45">Eswatini</text>
<text transform="translate(1718.8 1770.6) scale(1.055 1)" font-size="43.8" font-weight="bold" fill="#dba57a" text-anchor="start" stroke="#dba57a" stroke-width="0.7">12.2</text>
<text transform="translate(1927.0 1728.0) scale(1.000 1)" font-size="26.2" fill="#111" text-anchor="start" stroke="#111" stroke-width="0.45">Angola</text>
<text transform="translate(1926.0 1770.6) scale(1.055 1)" font-size="43.8" font-weight="bold" fill="#dba57a" text-anchor="start" stroke="#dba57a" stroke-width="0.7">12</text>
<text transform="translate(123.6 1762.0) scale(1.000 1)" font-size="26.2" fill="#111" text-anchor="start" stroke="#111" stroke-width="0.45">Vanuatu</text>
<text transform="translate(122.6 1804.6) scale(1.055 1)" font-size="43.8" font-weight="bold" fill="#aba08b" text-anchor="start" stroke="#aba08b" stroke-width="0.7">21.4</text>
<text transform="translate(1619.7 1835.0) scale(1.000 1)" font-size="26.2" fill="#111" text-anchor="start" stroke="#111" stroke-width="0.45">Gambia</text>
<text transform="translate(1618.7 1877.6) scale(1.055 1)" font-size="43.8" font-weight="bold" fill="#dba57a" text-anchor="start" stroke="#dba57a" stroke-width="0.7">19</text>
<text transform="translate(1837.8 1823.6) scale(1.000 1)" font-size="26.2" fill="#111" text-anchor="start" stroke="#111" stroke-width="0.45">Suriname</text>
<text transform="translate(1836.8 1866.2) scale(1.055 1)" font-size="43.8" font-weight="bold" fill="#aba08b" text-anchor="start" stroke="#aba08b" stroke-width="0.7">35.4</text>
<text transform="translate(1991.8 1823.6) scale(1.000 1)" font-size="26.2" fill="#111" text-anchor="start" stroke="#111" stroke-width="0.45">Lebanon</text>
<text transform="translate(1990.8 1866.2) scale(1.055 1)" font-size="43.8" font-weight="bold" fill="#8aa6a4" text-anchor="start" stroke="#8aa6a4" stroke-width="0.7">46.8</text>
<text transform="translate(2144.7 1823.6) scale(1.000 1)" font-size="26.2" fill="#111" text-anchor="start" stroke="#111" stroke-width="0.45">Samoa</text>
<text transform="translate(2143.7 1866.2) scale(1.055 1)" font-size="43.8" font-weight="bold" fill="#8aa6a4" text-anchor="start" stroke="#8aa6a4" stroke-width="0.7">40.4</text>
<text transform="translate(309.7 1857.0) scale(1.000 1)" font-size="26.2" fill="#111" text-anchor="start" stroke="#111" stroke-width="0.45">Cape</text>
<text transform="translate(309.7 1886.2) scale(1.000 1)" font-size="26.2" fill="#111" text-anchor="start" stroke="#111" stroke-width="0.45">Verde</text>
<text transform="translate(308.7 1928.8) scale(1.055 1)" font-size="43.8" font-weight="bold" fill="#aba08b" text-anchor="start" stroke="#aba08b" stroke-width="0.7">34.5</text>
<text transform="translate(489.0 1849.0) scale(1.000 1)" font-size="26.2" fill="#111" text-anchor="start" stroke="#111" stroke-width="0.45">Pakistan</text>
<text transform="translate(488.0 1891.6) scale(1.055 1)" font-size="43.8" font-weight="bold" fill="#dba57a" text-anchor="start" stroke="#dba57a" stroke-width="0.7">15.3</text>
<text transform="translate(124.7 1891.0) scale(1.000 1)" font-size="26.2" fill="#111" text-anchor="start" stroke="#111" stroke-width="0.45">Venezuela</text>
<text transform="translate(123.7 1933.6) scale(1.055 1)" font-size="43.8" font-weight="bold" fill="#8aa6a4" text-anchor="start" stroke="#8aa6a4" stroke-width="0.7">43.6</text>
<text transform="translate(621.6 1905.0) scale(1.000 1)" font-size="26.2" fill="#111" text-anchor="start" stroke="#111" stroke-width="0.45">Colombia</text>
<text transform="translate(620.6 1947.6) scale(1.055 1)" font-size="43.8" font-weight="bold" fill="#4da3c8" text-anchor="start" stroke="#4da3c8" stroke-width="0.7">50.1</text>
<text transform="translate(1529.7 1912.4) scale(1.000 1)" font-size="26.2" fill="#111" text-anchor="start" stroke="#111" stroke-width="0.45">Fiji</text>
<text transform="translate(1528.7 1955.0) scale(1.055 1)" font-size="43.8" font-weight="bold" fill="#aba08b" text-anchor="start" stroke="#aba08b" stroke-width="0.7">32</text>
<text transform="translate(1837.8 1920.6) scale(1.000 1)" font-size="26.2" fill="#111" text-anchor="start" stroke="#111" stroke-width="0.45">Mongolia</text>
<text transform="translate(1836.8 1963.2) scale(1.055 1)" font-size="43.8" font-weight="bold" fill="#8aa6a4" text-anchor="start" stroke="#8aa6a4" stroke-width="0.7">43.8</text>
<text transform="translate(2145.9 1952.5) scale(1.000 1)" font-size="26.2" fill="#111" text-anchor="start" stroke="#111" stroke-width="0.45">Moldova</text>
<text transform="translate(2144.9 1995.1) scale(1.055 1)" font-size="43.8" font-weight="bold" fill="#4da3c8" text-anchor="start" stroke="#4da3c8" stroke-width="0.7">50.8</text>
<text transform="translate(127.0 2021.6) scale(1.000 1)" font-size="26.2" fill="#111" text-anchor="start" stroke="#111" stroke-width="0.45">United Arab</text>
<text transform="translate(127.0 2050.8) scale(1.000 1)" font-size="26.2" fill="#111" text-anchor="start" stroke="#111" stroke-width="0.45">Emirates</text>
<text transform="translate(126.0 2093.4) scale(1.055 1)" font-size="43.8" font-weight="bold" fill="#4da3c8" text-anchor="start" stroke="#4da3c8" stroke-width="0.7">51.7</text>
<text transform="translate(314.7 2061.0) scale(1.000 1)" font-size="26.2" fill="#111" text-anchor="start" stroke="#111" stroke-width="0.45">Turkmenistan</text>
<text transform="translate(313.7 2103.6) scale(1.055 1)" font-size="43.8" font-weight="bold" fill="#8aa6a4" text-anchor="start" stroke="#8aa6a4" stroke-width="0.7">47.7</text>
<text transform="translate(528.9 2061.0) scale(1.000 1)" font-size="26.2" fill="#111" text-anchor="start" stroke="#111" stroke-width="0.45">Grenada</text>
<text transform="translate(527.9 2103.6) scale(1.055 1)" font-size="43.8" font-weight="bold" fill="#8aa6a4" text-anchor="start" stroke="#8aa6a4" stroke-width="0.7">44.4</text>
<text transform="translate(1759.7 2017.7) scale(1.000 1)" font-size="26.2" fill="#111" text-anchor="start" stroke="#111" stroke-width="0.45">Nicaragua</text>
<text transform="translate(1758.7 2060.3) scale(1.055 1)" font-size="43.8" font-weight="bold" fill="#8aa6a4" text-anchor="start" stroke="#8aa6a4" stroke-width="0.7">42.2</text>
<text transform="translate(1961.0 2061.0) scale(1.000 1)" font-size="26.2" fill="#111" text-anchor="start" stroke="#111" stroke-width="0.45">Gabon</text>
<text transform="translate(1960.0 2103.6) scale(1.055 1)" font-size="43.8" font-weight="bold" fill="#aba08b" text-anchor="start" stroke="#aba08b" stroke-width="0.7">27.2</text>
<text transform="translate(1678.8 2114.4) scale(1.000 1)" font-size="26.2" fill="#111" text-anchor="start" stroke="#111" stroke-width="0.45">Zambia</text>
<text transform="translate(1677.8 2157.0) scale(1.055 1)" font-size="43.8" font-weight="bold" fill="#dba57a" text-anchor="start" stroke="#dba57a" stroke-width="0.7">13.2</text>
<text transform="translate(2147.6 2103.0) scale(1.000 1)" font-size="26.2" fill="#111" text-anchor="start" stroke="#111" stroke-width="0.45">Mauritania</text>
<text transform="translate(2146.6 2145.6) scale(1.055 1)" font-size="43.8" font-weight="bold" fill="#dba57a" text-anchor="start" stroke="#dba57a" stroke-width="0.7">13.6</text>
<text transform="translate(123.6 2181.3) scale(1.000 1)" font-size="26.2" fill="#111" text-anchor="start" stroke="#111" stroke-width="0.45">Peru</text>
<text transform="translate(122.6 2223.9) scale(1.055 1)" font-size="43.8" font-weight="bold" fill="#8aa6a4" text-anchor="start" stroke="#8aa6a4" stroke-width="0.7">42.8</text>
<text transform="translate(1961.0 2186.4) scale(1.000 1)" font-size="26.2" fill="#111" text-anchor="start" stroke="#111" stroke-width="0.45">Turkey</text>
<text transform="translate(1960.0 2229.0) scale(1.055 1)" font-size="43.8" font-weight="bold" fill="#8aa6a4" text-anchor="start" stroke="#8aa6a4" stroke-width="0.7">47</text>
<text transform="translate(2147.6 2206.0) scale(1.000 1)" font-size="26.2" fill="#111" text-anchor="start" stroke="#111" stroke-width="0.45">Afghanistan</text>
<text transform="translate(2146.6 2248.6) scale(1.055 1)" font-size="43.8" font-weight="bold" fill="#aba08b" text-anchor="start" stroke="#aba08b" stroke-width="0.7">27.8</text>
<text transform="translate(311.9 2259.4) scale(1.000 1)" font-size="26.2" fill="#111" text-anchor="start" stroke="#111" stroke-width="0.45">Saint Lucia</text>
<text transform="translate(310.9 2302.0) scale(1.055 1)" font-size="43.8" font-weight="bold" fill="#8aa6a4" text-anchor="start" stroke="#8aa6a4" stroke-width="0.7">42.2</text>
<text transform="translate(124.7 2310.0) scale(1.000 1)" font-size="26.2" fill="#111" text-anchor="start" stroke="#111" stroke-width="0.45">Maldives</text>
<text transform="translate(123.7 2352.6) scale(1.055 1)" font-size="43.8" font-weight="bold" fill="#8aa6a4" text-anchor="start" stroke="#8aa6a4" stroke-width="0.7">44.2</text>
<text transform="translate(1961.0 2309.0) scale(1.000 1)" font-size="26.2" fill="#111" text-anchor="start" stroke="#111" stroke-width="0.45">Albania</text>
<text transform="translate(1960.0 2351.6) scale(1.055 1)" font-size="43.8" font-weight="bold" fill="#4da3c8" text-anchor="start" stroke="#4da3c8" stroke-width="0.7">50.3</text>
<text transform="translate(2145.9 2307.0) scale(1.000 1)" font-size="26.2" fill="#111" text-anchor="start" stroke="#111" stroke-width="0.45">Senegal</text>
<text transform="translate(2144.9 2349.6) scale(1.055 1)" font-size="43.8" font-weight="bold" fill="#dba57a" text-anchor="start" stroke="#dba57a" stroke-width="0.7">13</text>
<text transform="translate(126.4 2433.0) scale(1.000 1)" font-size="26.2" fill="#111" text-anchor="start" stroke="#111" stroke-width="0.45">Dominican</text>
<text transform="translate(126.4 2462.2) scale(1.000 1)" font-size="26.2" fill="#111" text-anchor="start" stroke="#111" stroke-width="0.45">Republic</text>
<text transform="translate(125.4 2504.8) scale(1.055 1)" font-size="43.8" font-weight="bold" fill="#aba08b" text-anchor="start" stroke="#aba08b" stroke-width="0.7">35.2</text>
<text transform="translate(310.0 2462.3) scale(1.000 1)" font-size="26.2" fill="#111" text-anchor="start" stroke="#111" stroke-width="0.45">Iraq</text>
<text transform="translate(309.0 2504.9) scale(1.055 1)" font-size="43.8" font-weight="bold" fill="#8aa6a4" text-anchor="start" stroke="#8aa6a4" stroke-width="0.7">45.9</text>
<text transform="translate(1961.0 2441.0) scale(1.000 1)" font-size="26.2" fill="#111" text-anchor="start" stroke="#111" stroke-width="0.45">Morocco</text>
<text transform="translate(1960.0 2483.6) scale(1.055 1)" font-size="43.8" font-weight="bold" fill="#aba08b" text-anchor="start" stroke="#aba08b" stroke-width="0.7">36.7</text>
<text transform="translate(2145.9 2414.0) scale(1.000 1)" font-size="26.2" fill="#111" text-anchor="start" stroke="#111" stroke-width="0.45">Vietnam</text>
<text transform="translate(2144.9 2456.6) scale(1.055 1)" font-size="43.8" font-weight="bold" fill="#4da3c8" text-anchor="start" stroke="#4da3c8" stroke-width="0.7">50.9</text>
<text transform="translate(127.0 2583.7) scale(1.000 1)" font-size="26.2" fill="#111" text-anchor="start" stroke="#111" stroke-width="0.45">Timor-Leste</text>
<text transform="translate(126.0 2626.3) scale(1.055 1)" font-size="43.8" font-weight="bold" fill="#aba08b" text-anchor="start" stroke="#aba08b" stroke-width="0.7">26.2</text>
<text transform="translate(310.0 2583.7) scale(1.000 1)" font-size="26.2" fill="#111" text-anchor="start" stroke="#111" stroke-width="0.45">Belize</text>
<text transform="translate(309.0 2626.3) scale(1.055 1)" font-size="43.8" font-weight="bold" fill="#aba08b" text-anchor="start" stroke="#aba08b" stroke-width="0.7">39.6</text>
<text transform="translate(1961.0 2564.0) scale(1.000 1)" font-size="26.2" fill="#111" text-anchor="start" stroke="#111" stroke-width="0.45">Djibouti</text>
<text transform="translate(1960.0 2606.6) scale(1.055 1)" font-size="43.8" font-weight="bold" fill="#dba57a" text-anchor="start" stroke="#dba57a" stroke-width="0.7">18.3</text>
<text transform="translate(2147.6 2529.0) scale(1.000 1)" font-size="26.2" fill="#111" text-anchor="start" stroke="#111" stroke-width="0.45">Bosnia &amp;</text>
<text transform="translate(2147.6 2558.2) scale(1.000 1)" font-size="26.2" fill="#111" text-anchor="start" stroke="#111" stroke-width="0.45">Herzegovina</text>
<text transform="translate(2146.6 2600.8) scale(1.055 1)" font-size="43.8" font-weight="bold" fill="#4da3c8" text-anchor="start" stroke="#4da3c8" stroke-width="0.7">57.3</text>
<text transform="translate(2145.9 2662.0) scale(1.000 1)" font-size="26.2" fill="#111" text-anchor="start" stroke="#111" stroke-width="0.45">Malawi</text>
<text transform="translate(2144.9 2704.6) scale(1.055 1)" font-size="43.8" font-weight="bold" fill="#dba57a" text-anchor="start" stroke="#dba57a" stroke-width="0.7">12.1</text>
<text transform="translate(122.5 2704.8) scale(1.000 1)" font-size="26.2" fill="#111" text-anchor="start" stroke="#111" stroke-width="0.45">Mali</text>
<text transform="translate(121.5 2747.4) scale(1.055 1)" font-size="43.8" font-weight="bold" fill="#dba57a" text-anchor="start" stroke="#dba57a" stroke-width="0.7">8.3</text>
<text transform="translate(264.0 2741.3) scale(1.000 1)" font-size="26.2" fill="#111" text-anchor="start" stroke="#111" stroke-width="0.45">Laos</text>
<text transform="translate(263.0 2783.9) scale(1.055 1)" font-size="43.8" font-weight="bold" fill="#aba08b" text-anchor="start" stroke="#aba08b" stroke-width="0.7">26.1</text>
<text transform="translate(2147.6 2780.7) scale(1.000 1)" font-size="26.2" fill="#111" text-anchor="start" stroke="#111" stroke-width="0.45">Equatorial</text>
<text transform="translate(2147.6 2809.9) scale(1.000 1)" font-size="26.2" fill="#111" text-anchor="start" stroke="#111" stroke-width="0.45">Guinea</text>
<text transform="translate(2146.6 2852.5) scale(1.055 1)" font-size="43.8" font-weight="bold" fill="#aba08b" text-anchor="start" stroke="#aba08b" stroke-width="0.7">29.6</text>
<text transform="translate(123.6 2821.7) scale(1.000 1)" font-size="26.2" fill="#111" text-anchor="start" stroke="#111" stroke-width="0.45">Rwanda</text>
<text transform="translate(122.6 2864.3) scale(1.055 1)" font-size="43.8" font-weight="bold" fill="#dba57a" text-anchor="start" stroke="#dba57a" stroke-width="0.7">17</text>
<text transform="translate(2027.3 2843.0) scale(1.000 1)" font-size="26.2" fill="#111" text-anchor="start" stroke="#111" stroke-width="0.45">Liberia</text>
<text transform="translate(2026.3 2885.6) scale(1.055 1)" font-size="43.8" font-weight="bold" fill="#dba57a" text-anchor="start" stroke="#dba57a" stroke-width="0.7">9.5</text>
<text transform="translate(125.3 2937.5) scale(1.000 1)" font-size="26.2" fill="#111" text-anchor="start" stroke="#111" stroke-width="0.45">Bahamas</text>
<text transform="translate(124.3 2980.1) scale(1.055 1)" font-size="43.8" font-weight="bold" fill="#8aa6a4" text-anchor="start" stroke="#8aa6a4" stroke-width="0.7">47.8</text>
<text transform="translate(2147.6 2926.8) scale(1.000 1)" font-size="26.2" fill="#111" text-anchor="start" stroke="#111" stroke-width="0.45">Dominica</text>
<text transform="translate(2146.6 2969.4) scale(1.055 1)" font-size="43.8" font-weight="bold" fill="#8aa6a4" text-anchor="start" stroke="#8aa6a4" stroke-width="0.7">43.5</text>
<text transform="translate(2029.5 3015.6) scale(1.000 1)" font-size="26.2" fill="#111" text-anchor="start" stroke="#111" stroke-width="0.45">Costa Rica</text>
<text transform="translate(2028.5 3058.2) scale(1.055 1)" font-size="43.8" font-weight="bold" fill="#4da3c8" text-anchor="start" stroke="#4da3c8" stroke-width="0.7">55.3</text>
<text transform="translate(123.6 3053.9) scale(1.000 1)" font-size="26.2" fill="#111" text-anchor="start" stroke="#111" stroke-width="0.45">Lesotho</text>
<text transform="translate(122.6 3096.5) scale(1.055 1)" font-size="43.8" font-weight="bold" fill="#dba57a" text-anchor="start" stroke="#dba57a" stroke-width="0.7">7.2</text>
<text transform="translate(2147.6 3103.9) scale(1.000 1)" font-size="26.2" fill="#111" text-anchor="start" stroke="#111" stroke-width="0.45">Honduras</text>
<text transform="translate(2146.6 3146.5) scale(1.055 1)" font-size="43.8" font-weight="bold" fill="#aba08b" text-anchor="start" stroke="#aba08b" stroke-width="0.7">30.9</text>
<text transform="translate(123.6 3181.5) scale(1.000 1)" font-size="26.2" fill="#111" text-anchor="start" stroke="#111" stroke-width="0.45">Kenya</text>
<text transform="translate(122.6 3224.1) scale(1.055 1)" font-size="43.8" font-weight="bold" fill="#dba57a" text-anchor="start" stroke="#dba57a" stroke-width="0.7">13.7</text>
<text transform="translate(264.0 3181.5) scale(1.000 1)" font-size="26.2" fill="#111" text-anchor="start" stroke="#111" stroke-width="0.45">Egypt</text>
<text transform="translate(263.0 3224.1) scale(1.055 1)" font-size="43.8" font-weight="bold" fill="#aba08b" text-anchor="start" stroke="#aba08b" stroke-width="0.7">36.7</text>
<text transform="translate(2048.0 3179.2) scale(1.000 1)" font-size="26.2" fill="#111" text-anchor="start" stroke="#111" stroke-width="0.45">Uganda</text>
<text transform="translate(2047.0 3221.8) scale(1.055 1)" font-size="43.8" font-weight="bold" fill="#dba57a" text-anchor="start" stroke="#dba57a" stroke-width="0.7">17.7</text>
<text transform="translate(2145.9 3260.0) scale(1.000 1)" font-size="26.2" fill="#111" text-anchor="start" stroke="#111" stroke-width="0.45">Panama</text>
<text transform="translate(2144.9 3302.6) scale(1.055 1)" font-size="43.8" font-weight="bold" fill="#8aa6a4" text-anchor="start" stroke="#8aa6a4" stroke-width="0.7">41.7</text>
<text transform="translate(123.6 3305.3) scale(1.000 1)" font-size="26.2" fill="#111" text-anchor="start" stroke="#111" stroke-width="0.45">Antigua and Barbuda</text>
<text transform="translate(122.6 3347.9) scale(1.055 1)" font-size="43.8" font-weight="bold" fill="#8aa6a4" text-anchor="start" stroke="#8aa6a4" stroke-width="0.7">45.2</text>
<text transform="translate(1982.3 3315.0) scale(1.000 1)" font-size="26.2" fill="#111" text-anchor="start" stroke="#111" stroke-width="0.45">Azerbaijan</text>
<text transform="translate(1981.3 3357.6) scale(1.055 1)" font-size="43.8" font-weight="bold" fill="#8aa6a4" text-anchor="start" stroke="#8aa6a4" stroke-width="0.7">46.5</text>
<text transform="translate(272.0 3376.7) scale(1.000 1)" font-size="26.2" fill="#111" text-anchor="start" stroke="#111" stroke-width="0.45">Bangladesh</text>
<text transform="translate(271.0 3419.3) scale(1.055 1)" font-size="43.8" font-weight="bold" fill="#aba08b" text-anchor="start" stroke="#aba08b" stroke-width="0.7">26.9</text>
<text transform="translate(2148.1 3386.8) scale(1.000 1)" font-size="26.2" fill="#111" text-anchor="start" stroke="#111" stroke-width="0.45">Democratic</text>
<text transform="translate(2148.1 3416.0) scale(1.000 1)" font-size="26.2" fill="#111" text-anchor="start" stroke="#111" stroke-width="0.45">Rep. Congo</text>
<text transform="translate(2147.1 3458.6) scale(1.055 1)" font-size="43.8" font-weight="bold" fill="#dba57a" text-anchor="start" stroke="#dba57a" stroke-width="0.7">13.4</text>
<text transform="translate(123.6 3452.0) scale(1.000 1)" font-size="26.2" fill="#111" text-anchor="start" stroke="#111" stroke-width="0.45">Haiti</text>
<text transform="translate(122.6 3494.6) scale(1.055 1)" font-size="43.8" font-weight="bold" fill="#dba57a" text-anchor="start" stroke="#dba57a" stroke-width="0.7">13.9</text>
<text transform="translate(1910.3 3449.8) scale(1.000 1)" font-size="26.2" fill="#111" text-anchor="start" stroke="#111" stroke-width="0.45">Uzbekistan</text>
<text transform="translate(1909.3 3492.4) scale(1.055 1)" font-size="43.8" font-weight="bold" fill="#4da3c8" text-anchor="start" stroke="#4da3c8" stroke-width="0.7">54</text>
<text transform="translate(292.2 3499.2) scale(1.000 1)" font-size="26.2" fill="#111" text-anchor="start" stroke="#111" stroke-width="0.45">Comoros</text>
<text transform="translate(291.2 3541.8) scale(1.055 1)" font-size="43.8" font-weight="bold" fill="#dba57a" text-anchor="start" stroke="#dba57a" stroke-width="0.7">15.4</text>
<text transform="translate(2147.6 3548.7) scale(1.000 1)" font-size="26.2" fill="#111" text-anchor="start" stroke="#111" stroke-width="0.45">Micronesia</text>
<text transform="translate(2146.6 3591.3) scale(1.055 1)" font-size="43.8" font-weight="bold" fill="#aba08b" text-anchor="start" stroke="#aba08b" stroke-width="0.7">33</text>
<text transform="translate(1869.3 3557.0) scale(1.000 1)" font-size="26.2" fill="#111" text-anchor="start" stroke="#111" stroke-width="0.45">Sierra Leone</text>
<text transform="translate(1868.3 3599.6) scale(1.055 1)" font-size="43.8" font-weight="bold" fill="#dba57a" text-anchor="start" stroke="#dba57a" stroke-width="0.7">11.6</text>
<text transform="translate(123.6 3599.3) scale(1.000 1)" font-size="26.2" fill="#111" text-anchor="start" stroke="#111" stroke-width="0.45">Indonesia</text>
<text transform="translate(122.6 3641.9) scale(1.055 1)" font-size="43.8" font-weight="bold" fill="#aba08b" text-anchor="start" stroke="#aba08b" stroke-width="0.7">24.9</text>
<text transform="translate(1760.8 3615.0) scale(1.000 1)" font-size="26.2" fill="#111" text-anchor="start" stroke="#111" stroke-width="0.45">Iran</text>
<text transform="translate(1759.8 3657.6) scale(1.055 1)" font-size="43.8" font-weight="bold" fill="#8aa6a4" text-anchor="start" stroke="#8aa6a4" stroke-width="0.7">48.8</text>
<text transform="translate(1981.2 3637.0) scale(1.000 1)" font-size="26.2" fill="#111" text-anchor="start" stroke="#111" stroke-width="0.45">Tunisia</text>
<text transform="translate(1980.2 3679.6) scale(1.055 1)" font-size="43.8" font-weight="bold" fill="#8aa6a4" text-anchor="start" stroke="#8aa6a4" stroke-width="0.7">49.1</text>
<text transform="translate(291.0 3653.8) scale(1.000 1)" font-size="26.2" fill="#111" text-anchor="start" stroke="#111" stroke-width="0.45">Benin</text>
<text transform="translate(290.0 3696.4) scale(1.055 1)" font-size="43.8" font-weight="bold" fill="#dba57a" text-anchor="start" stroke="#dba57a" stroke-width="0.7">13.6</text>
<text transform="translate(2145.9 3682.0) scale(1.000 1)" font-size="26.2" fill="#111" text-anchor="start" stroke="#111" stroke-width="0.45">India</text>
<text transform="translate(2144.9 3724.6) scale(1.055 1)" font-size="43.8" font-weight="bold" fill="#dba57a" text-anchor="start" stroke="#dba57a" stroke-width="0.7">18.2</text>
<text transform="translate(123.6 3746.6) scale(1.000 1)" font-size="26.2" fill="#111" text-anchor="start" stroke="#111" stroke-width="0.45">Cambodia</text>
<text transform="translate(122.6 3789.2) scale(1.055 1)" font-size="43.8" font-weight="bold" fill="#aba08b" text-anchor="start" stroke="#aba08b" stroke-width="0.7">33.3</text>
<text transform="translate(628.4 3732.5) scale(1.000 1)" font-size="26.2" fill="#111" text-anchor="start" stroke="#111" stroke-width="0.45">Seychelles</text>
<text transform="translate(627.4 3775.1) scale(1.055 1)" font-size="43.8" font-weight="bold" fill="#8aa6a4" text-anchor="start" stroke="#8aa6a4" stroke-width="0.7">45.8</text>
<text transform="translate(292.8 3807.3) scale(1.000 1)" font-size="26.2" fill="#111" text-anchor="start" stroke="#111" stroke-width="0.45">Zimbabwe</text>
<text transform="translate(291.8 3849.9) scale(1.055 1)" font-size="43.8" font-weight="bold" fill="#dba57a" text-anchor="start" stroke="#dba57a" stroke-width="0.7">16.2</text>
<text transform="translate(1923.3 3800.5) scale(1.000 1)" font-size="26.2" fill="#111" text-anchor="start" stroke="#111" stroke-width="0.45">Sao Tome</text>
<text transform="translate(1923.3 3829.7) scale(1.000 1)" font-size="26.2" fill="#111" text-anchor="start" stroke="#111" stroke-width="0.45">and Principe</text>
<text transform="translate(1922.3 3872.3) scale(1.055 1)" font-size="43.8" font-weight="bold" fill="#aba08b" text-anchor="start" stroke="#aba08b" stroke-width="0.7">34.1</text>
<text transform="translate(2146.4 3816.8) scale(1.000 1)" font-size="26.2" fill="#111" text-anchor="start" stroke="#111" stroke-width="0.45">Sri Lanka</text>
<text transform="translate(2145.4 3859.4) scale(1.055 1)" font-size="43.8" font-weight="bold" fill="#8aa6a4" text-anchor="start" stroke="#8aa6a4" stroke-width="0.7">46.7</text>
<text transform="translate(549.7 3827.0) scale(1.000 1)" font-size="26.2" fill="#111" text-anchor="start" stroke="#111" stroke-width="0.45">Kiribati</text>
<text transform="translate(548.7 3869.6) scale(1.055 1)" font-size="43.8" font-weight="bold" fill="#dba57a" text-anchor="start" stroke="#dba57a" stroke-width="0.7">15.6</text>
<text transform="translate(795.3 3829.7) scale(1.000 1)" font-size="26.2" fill="#111" text-anchor="start" stroke="#111" stroke-width="0.45">Montenegro</text>
<text transform="translate(794.3 3872.3) scale(1.055 1)" font-size="43.8" font-weight="bold" fill="#4da3c8" text-anchor="start" stroke="#4da3c8" stroke-width="0.7">56.8</text>
<text transform="translate(1009.7 3829.7) scale(1.000 1)" font-size="26.2" fill="#111" text-anchor="start" stroke="#111" stroke-width="0.45">Saudi Arabia</text>
<text transform="translate(1008.7 3872.3) scale(1.055 1)" font-size="43.8" font-weight="bold" fill="#4da3c8" text-anchor="start" stroke="#4da3c8" stroke-width="0.7">51</text>
<text transform="translate(1197.4 3829.7) scale(1.000 1)" font-size="26.2" fill="#111" text-anchor="start" stroke="#111" stroke-width="0.45">Algeria</text>
<text transform="translate(1196.4 3872.3) scale(1.055 1)" font-size="43.8" font-weight="bold" fill="#8aa6a4" text-anchor="start" stroke="#8aa6a4" stroke-width="0.7">49.1</text>
<text transform="translate(1327.3 3829.7) scale(1.000 1)" font-size="26.2" fill="#111" text-anchor="start" stroke="#111" stroke-width="0.45">Bolivia</text>
<text transform="translate(1326.3 3872.3) scale(1.055 1)" font-size="43.8" font-weight="bold" fill="#aba08b" text-anchor="start" stroke="#aba08b" stroke-width="0.7">38.5</text>
<text transform="translate(1471.2 3829.7) scale(1.000 1)" font-size="26.2" fill="#111" text-anchor="start" stroke="#111" stroke-width="0.45">Guinea</text>
<text transform="translate(1470.2 3872.3) scale(1.055 1)" font-size="43.8" font-weight="bold" fill="#dba57a" text-anchor="start" stroke="#dba57a" stroke-width="0.7">11</text>
<text transform="translate(1645.0 3830.9) scale(1.000 1)" font-size="26.2" fill="#111" text-anchor="start" stroke="#111" stroke-width="0.45">Paraguay</text>
<text transform="translate(1644.0 3873.5) scale(1.055 1)" font-size="43.8" font-weight="bold" fill="#8aa6a4" text-anchor="start" stroke="#8aa6a4" stroke-width="0.7">45.2</text>
<text transform="translate(329.9 3967.0) scale(1.000 1)" font-size="26.2" fill="#111" text-anchor="start" stroke="#111" stroke-width="0.45">Ecuador</text>
<text transform="translate(328.9 4009.6) scale(1.055 1)" font-size="43.8" font-weight="bold" fill="#8aa6a4" text-anchor="start" stroke="#8aa6a4" stroke-width="0.7">46.7</text>
<text transform="translate(463.1 3967.0) scale(1.000 1)" font-size="26.2" fill="#111" text-anchor="start" stroke="#111" stroke-width="0.45">Nepal</text>
<text transform="translate(462.1 4009.6) scale(1.055 1)" font-size="43.8" font-weight="bold" fill="#aba08b" text-anchor="start" stroke="#aba08b" stroke-width="0.7">25.9</text>
<text transform="translate(587.4 3936.6) scale(1.000 1)" font-size="26.2" fill="#111" text-anchor="start" stroke="#111" stroke-width="0.45">Solomon</text>
<text transform="translate(587.4 3965.8) scale(1.000 1)" font-size="26.2" fill="#111" text-anchor="start" stroke="#111" stroke-width="0.45">Islands</text>
<text transform="translate(586.4 4008.4) scale(1.055 1)" font-size="43.8" font-weight="bold" fill="#dba57a" text-anchor="start" stroke="#dba57a" stroke-width="0.7">14.4</text>
<text transform="translate(736.3 3967.0) scale(1.000 1)" font-size="26.2" fill="#111" text-anchor="start" stroke="#111" stroke-width="0.45">Mozambique</text>
<text transform="translate(735.3 4009.6) scale(1.055 1)" font-size="43.8" font-weight="bold" fill="#dba57a" text-anchor="start" stroke="#dba57a" stroke-width="0.7">16.5</text>
<text transform="translate(923.1 3967.0) scale(1.000 1)" font-size="26.2" fill="#111" text-anchor="start" stroke="#111" stroke-width="0.45">Tajikistan</text>
<text transform="translate(922.1 4009.6) scale(1.055 1)" font-size="43.8" font-weight="bold" fill="#aba08b" text-anchor="start" stroke="#aba08b" stroke-width="0.7">31.7</text>
<text transform="translate(1085.0 3936.6) scale(1.000 1)" font-size="26.2" fill="#111" text-anchor="start" stroke="#111" stroke-width="0.45">Trinidad</text>
<text transform="translate(1085.0 3965.8) scale(1.000 1)" font-size="26.2" fill="#111" text-anchor="start" stroke="#111" stroke-width="0.45">&amp; Tobago</text>
<text transform="translate(1084.0 4008.4) scale(1.055 1)" font-size="43.8" font-weight="bold" fill="#8aa6a4" text-anchor="start" stroke="#8aa6a4" stroke-width="0.7">48.5</text>
<text transform="translate(1243.0 3967.0) scale(1.000 1)" font-size="26.2" fill="#111" text-anchor="start" stroke="#111" stroke-width="0.45">Namibia</text>
<text transform="translate(1242.0 4009.6) scale(1.055 1)" font-size="43.8" font-weight="bold" fill="#dba57a" text-anchor="start" stroke="#dba57a" stroke-width="0.7">18.9</text>
<text transform="translate(1394.7 3967.0) scale(1.000 1)" font-size="26.2" fill="#111" text-anchor="start" stroke="#111" stroke-width="0.45">Kyrgyzstan</text>
<text transform="translate(1393.7 4009.6) scale(1.055 1)" font-size="43.8" font-weight="bold" fill="#8aa6a4" text-anchor="start" stroke="#8aa6a4" stroke-width="0.7">47.3</text>
<text transform="translate(1569.1 3936.6) scale(1.000 1)" font-size="26.2" fill="#111" text-anchor="start" stroke="#111" stroke-width="0.45">Saint Vincent and</text>
<text transform="translate(1569.1 3965.8) scale(1.000 1)" font-size="26.2" fill="#111" text-anchor="start" stroke="#111" stroke-width="0.45">the Grenadines</text>
<text transform="translate(1568.1 4008.4) scale(1.055 1)" font-size="43.8" font-weight="bold" fill="#8aa6a4" text-anchor="start" stroke="#8aa6a4" stroke-width="0.7">41.1</text>
<text transform="translate(1818.7 3967.0) scale(1.000 1)" font-size="26.2" fill="#111" text-anchor="start" stroke="#111" stroke-width="0.45">Philippines</text>
<text transform="translate(1817.7 4009.6) scale(1.055 1)" font-size="43.8" font-weight="bold" fill="#aba08b" text-anchor="start" stroke="#aba08b" stroke-width="0.7">34.4</text>
<text transform="translate(1994.7 3967.0) scale(1.000 1)" font-size="26.2" fill="#111" text-anchor="start" stroke="#111" stroke-width="0.45">El Salvador</text>
<text transform="translate(1993.7 4009.6) scale(1.055 1)" font-size="43.8" font-weight="bold" fill="#8aa6a4" text-anchor="start" stroke="#8aa6a4" stroke-width="0.7">40.8</text>
<path d="M48 4346 V4209 a80 80 0 0 1 80 -80 H2272 a80 80 0 0 1 80 80 V4346 Z" fill="#fff"/>
<text x="125" y="4206.5" font-size="24.5" fill="#111" textLength="1039.6" lengthAdjust="spacingAndGlyphs"><tspan font-weight="bold">METHODOLOGY:</tspan> Based on each country’s score on Yale University’s Environmental Performance</text>
<text x="125" y="4238.5" font-size="24.5" fill="#111" textLength="1062.5" lengthAdjust="spacingAndGlyphs">Index. The index assigns each country a score that rates the quality of local drinking water based on</text>
<text x="125" y="4270.5" font-size="24.5" fill="#111" textLength="1058.0" lengthAdjust="spacingAndGlyphs">the number of age-standardised, disability-adjusted life-years lost per 100,000 persons (DALY rate)</text>
<text x="125" y="4302.5" font-size="24.5" fill="#111" textLength="914.5" lengthAdjust="spacingAndGlyphs">due to exposure to unsafe drinking water. Higher scores indicate safer drinking water.</text>
<g transform="translate(1276.2,4191.5)"><rect width="104.4" height="36.4" rx="2" fill="#0d0d0d"/><rect x="1.2" y="1.2" width="102" height="24.6" fill="#aaacab"/>
<circle cx="18" cy="17.2" r="14" fill="#aaacab"/><circle cx="18" cy="17.2" r="11.6" fill="#fff" stroke="#0d0d0d" stroke-width="2.6"/>
<text x="18" y="21.6" font-size="13.5" font-weight="bold" text-anchor="middle" fill="#0d0d0d" letter-spacing="-0.6">cc</text>
<circle cx="44.6" cy="13.2" r="8.3" fill="#fff" stroke="#0d0d0d" stroke-width="2"/>
<circle cx="67.7" cy="13.2" r="8.3" fill="#fff" stroke="#0d0d0d" stroke-width="2"/>
<circle cx="90.2" cy="13.2" r="8.3" fill="#fff" stroke="#0d0d0d" stroke-width="2"/>
<circle cx="44.6" cy="8.6" r="1.6" fill="#0d0d0d"/><path d="M42.3 11 h4.6 v5 h-1.1 v4.2 h-2.4 v-4.2 h-1.1 Z" fill="#0d0d0d"/>
<text x="67.7" y="17.6" font-size="12.5" font-weight="bold" text-anchor="middle" fill="#0d0d0d">$</text><path d="M61.5 8.5 L74 18" stroke="#0d0d0d" stroke-width="1.6"/>
<path d="M94.3 13.2 a4.1 4.1 0 1 1 -4.1 -4.1" fill="none" stroke="#0d0d0d" stroke-width="2"/><path d="M87.2 12.2 h5 l-2.5 3 Z" fill="#0d0d0d"/>
<text x="44.5" y="34" font-size="8.2" font-weight="bold" text-anchor="middle" fill="#fff">BY</text>
<text x="67.5" y="34" font-size="8.2" font-weight="bold" text-anchor="middle" fill="#fff">NC</text>
<text x="90.0" y="34" font-size="8.2" font-weight="bold" text-anchor="middle" fill="#fff">SA</text>
</g>
<text x="1395.5" y="4206" font-size="17.6" fill="#222" textLength="628" lengthAdjust="spacing">This image is licensed under the Creative Commons Attribution-Share Alike 4.0</text>
<text x="1395.5" y="4225.5" font-size="17.6" fill="#222" textLength="552" lengthAdjust="spacing">International License - www.creativecommons.org/licenses/by-sa/4.0</text>
<defs><linearGradient id="qs" gradientUnits="userSpaceOnUse" x1="0" y1="20" x2="0" y2="82"><stop offset="0" stop-color="#27297b"/><stop offset="0.5" stop-color="#6a2378"/><stop offset="1" stop-color="#b9166a"/></linearGradient></defs>
<g transform="translate(2130,4170)">
<path d="M45.4 22.1 L63.8 40 A25.1 25.1 0 1 1 28.2 38.5 L38.2 29.9 L56.7 48 A15.2 15.2 0 1 1 40.6 44.2 M47.2 60.9 L59.7 72.9" fill="none" stroke="url(#qs)" stroke-width="4" stroke-linecap="round" stroke-linejoin="round"/>
<circle cx="94.4" cy="41.8" r="17.3" fill="none" stroke="url(#qs)" stroke-width="4.6"/><path d="M100.3 50 L112.3 60.4" stroke="url(#qs)" stroke-width="4.6" fill="none"/>
<text x="114" y="61.5" font-size="57" fill="url(#qs)" stroke="url(#qs)" stroke-width="0.8" textLength="31" lengthAdjust="spacingAndGlyphs">S</text>
<text x="75.5" y="80.3" font-size="14.2" font-weight="bold" fill="url(#qs)" textLength="69.3" lengthAdjust="spacingAndGlyphs">SUPPLIES</text>
</g>
</svg>
</body></html>
